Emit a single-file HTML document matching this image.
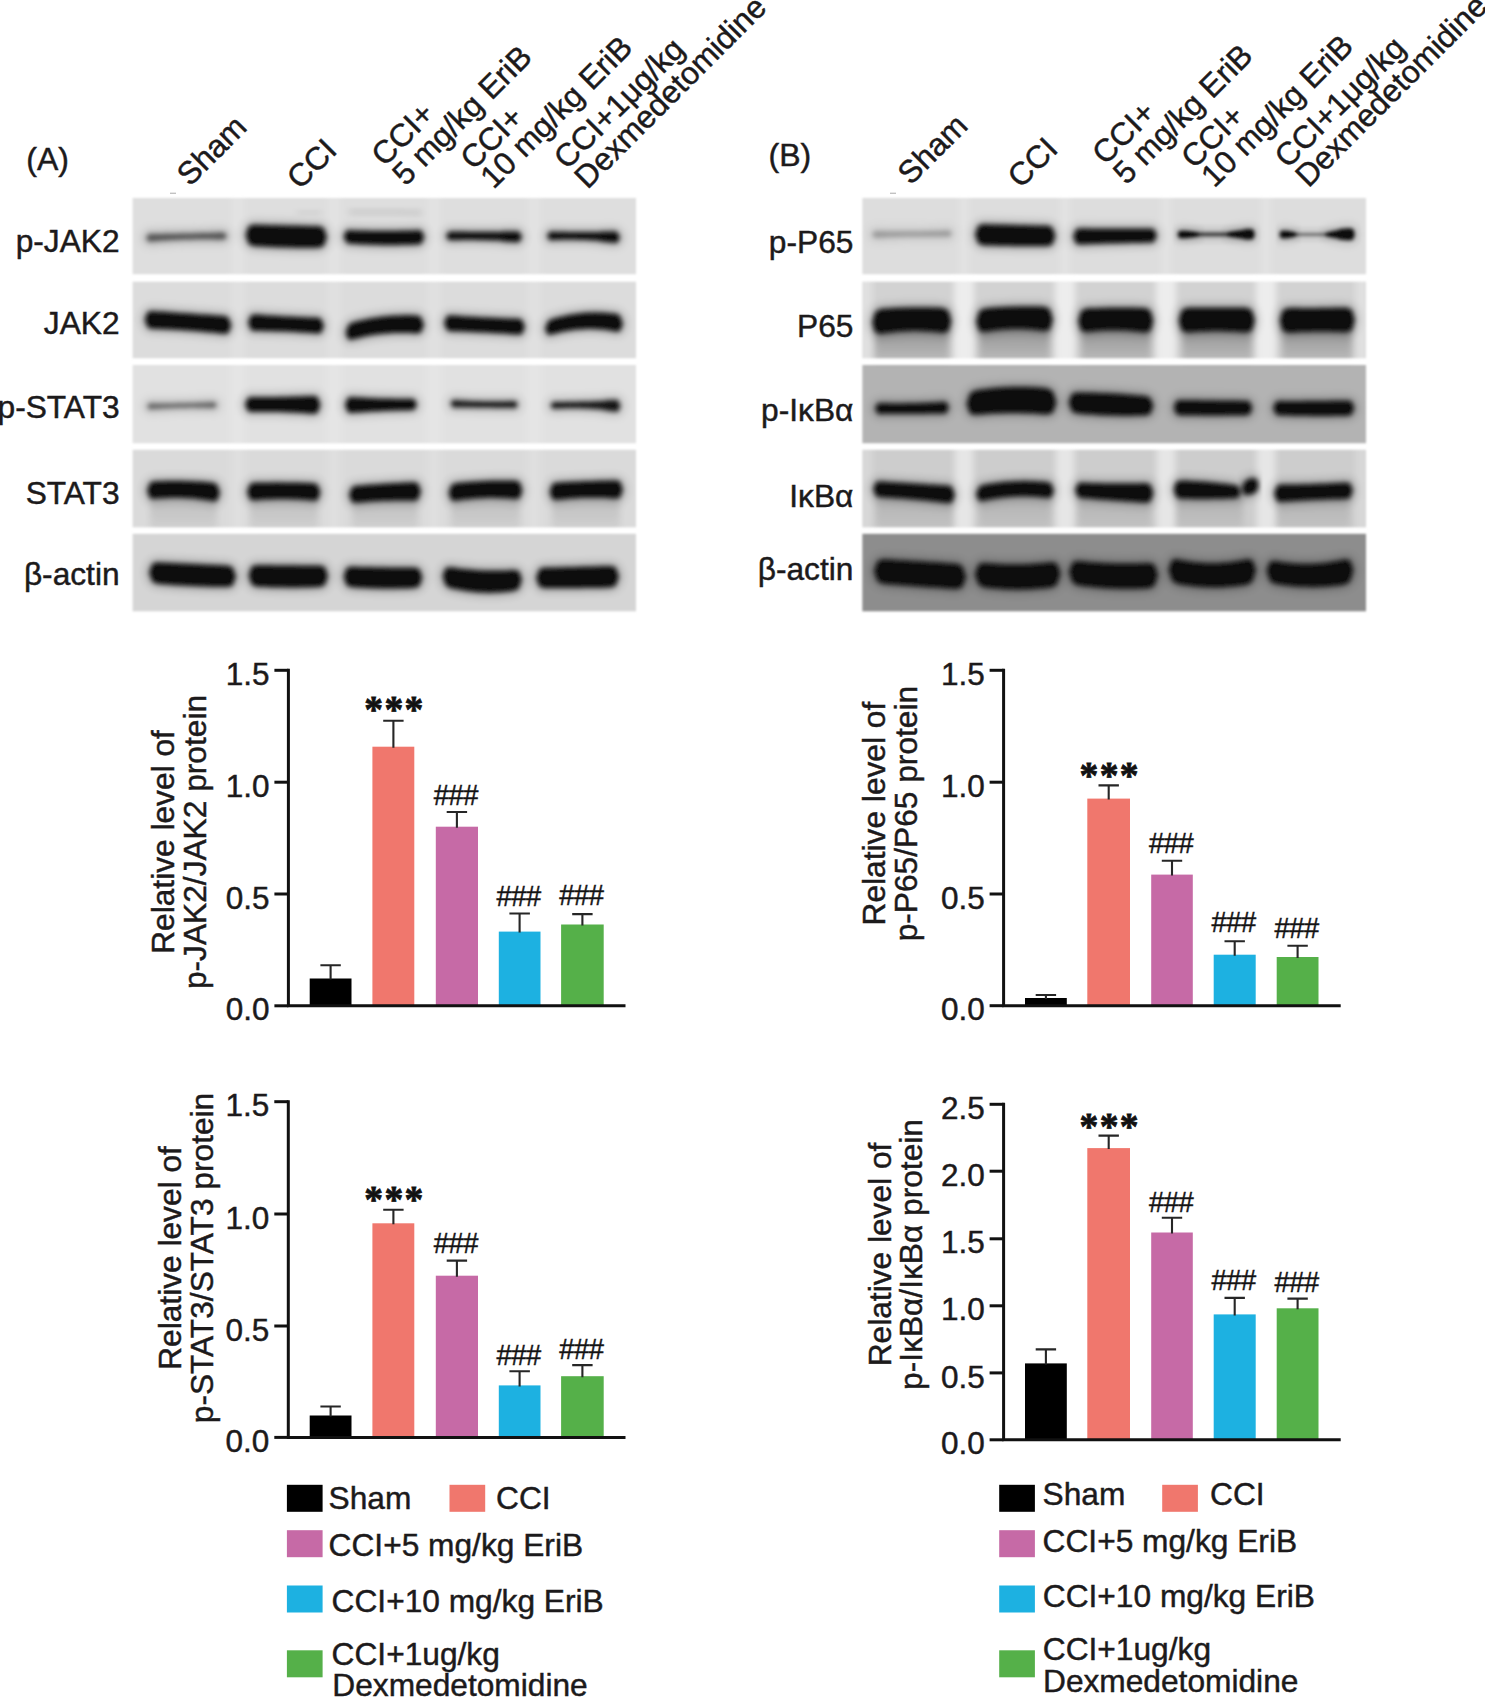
<!DOCTYPE html>
<html lang="en"><head><meta charset="utf-8"><title>Figure</title>
<style>html,body{margin:0;padding:0;background:#fff}svg{display:block}text{font-family:"Liberation Sans",sans-serif;fill:#1c1a1b;stroke:#1c1a1b;stroke-width:.45px}</style></head><body>
<svg width="1485" height="1699" viewBox="0 0 1485 1699">
<defs>
<filter id="b1" x="-10%" y="-60%" width="120%" height="220%"><feGaussianBlur stdDeviation="2.1"/></filter>
<filter id="bh" x="-20%" y="-150%" width="140%" height="400%"><feGaussianBlur stdDeviation="4"/></filter>
<filter id="b2" x="-50%" y="-10%" width="200%" height="120%"><feGaussianBlur stdDeviation="5 1"/></filter>
<filter id="b4" x="-50%" y="-10%" width="200%" height="120%"><feGaussianBlur stdDeviation="3 1"/></filter>
<filter id="b3" x="-10%" y="-30%" width="120%" height="160%"><feGaussianBlur stdDeviation="3"/></filter>
<filter id="b0" x="-10%" y="-150%" width="120%" height="400%"><feGaussianBlur stdDeviation="1.6"/></filter>
<filter id="bs" x="-2%" y="-2%" width="104%" height="104%"><feGaussianBlur stdDeviation="0.8"/></filter>
<linearGradient id="sm" x1="0" y1="0" x2="0" y2="1"><stop offset="0" stop-color="#000" stop-opacity="1"/><stop offset="1" stop-color="#000" stop-opacity="0.35"/></linearGradient>
</defs>
<rect width="1485" height="1699" fill="#fff"/>
<clipPath id="ca">
<rect x="132.4" y="197.8" width="503.6" height="76.6"/>
<rect x="132.4" y="281.4" width="503.6" height="77"/>
<rect x="132.4" y="365" width="503.6" height="78.5"/>
<rect x="132.4" y="449.6" width="503.6" height="78"/>
<rect x="132.4" y="533.6" width="503.6" height="78"/>
</clipPath>
<g filter="url(#bs)"><g clip-path="url(#ca)">
<rect x="132.4" y="197.8" width="503.6" height="76.6" fill="#dedede"/>
<rect x="132.4" y="281.4" width="503.6" height="77" fill="#dcdcdc"/>
<rect x="132.4" y="365" width="503.6" height="78.5" fill="#e1e1e1"/>
<rect x="132.4" y="449.6" width="503.6" height="78" fill="#dadada"/>
<rect x="132.4" y="533.6" width="503.6" height="78" fill="#d5d5d5"/>
<rect x="231" y="193.8" width="14" height="337.8" fill="#fff" opacity="0.16" filter="url(#b2)"/>
<rect x="327" y="193.8" width="14" height="337.8" fill="#fff" opacity="0.16" filter="url(#b2)"/>
<rect x="427" y="193.8" width="14" height="337.8" fill="#fff" opacity="0.16" filter="url(#b2)"/>
<rect x="527" y="193.8" width="14" height="337.8" fill="#fff" opacity="0.16" filter="url(#b2)"/>
<path d="M146 238 L148.9 234 L151.8 234 L154.7 234 L157.6 233.9 L160.5 233.9 L163.4 233.9 L166.2 233.8 L169.1 233.8 L172 233.8 L174.9 233.7 L177.8 233.7 L180.7 233.6 L183.6 233.6 L186.5 233.5 L189.4 233.4 L192.3 233.4 L195.2 233.3 L198.1 233.2 L201 233.1 L203.9 233.1 L206.8 233 L209.6 232.9 L212.5 232.8 L215.4 232.7 L218.3 232.6 L221.2 232.5 L224.1 232.4 L227 236 L227 236 L224.1 239.6 L221.2 239.5 L218.3 239.5 L215.4 239.4 L212.5 239.3 L209.6 239.3 L206.8 239.3 L203.9 239.3 L201 239.3 L198.1 239.3 L195.2 239.3 L192.3 239.4 L189.4 239.4 L186.5 239.5 L183.6 239.6 L180.7 239.7 L177.8 239.8 L174.9 239.9 L172 240.1 L169.1 240.2 L166.2 240.4 L163.4 240.6 L160.5 240.8 L157.6 241 L154.7 241.2 L151.8 241.5 L148.9 241.7 L146 238Z" fill="#555" stroke="#555" stroke-width="7" stroke-linejoin="round" filter="url(#bh)" opacity="0.3"/>
<path d="M146 238 L148.9 234 L151.8 234 L154.7 234 L157.6 233.9 L160.5 233.9 L163.4 233.9 L166.2 233.8 L169.1 233.8 L172 233.8 L174.9 233.7 L177.8 233.7 L180.7 233.6 L183.6 233.6 L186.5 233.5 L189.4 233.4 L192.3 233.4 L195.2 233.3 L198.1 233.2 L201 233.1 L203.9 233.1 L206.8 233 L209.6 232.9 L212.5 232.8 L215.4 232.7 L218.3 232.6 L221.2 232.5 L224.1 232.4 L227 236 L227 236 L224.1 239.6 L221.2 239.5 L218.3 239.5 L215.4 239.4 L212.5 239.3 L209.6 239.3 L206.8 239.3 L203.9 239.3 L201 239.3 L198.1 239.3 L195.2 239.3 L192.3 239.4 L189.4 239.4 L186.5 239.5 L183.6 239.6 L180.7 239.7 L177.8 239.8 L174.9 239.9 L172 240.1 L169.1 240.2 L166.2 240.4 L163.4 240.6 L160.5 240.8 L157.6 241 L154.7 241.2 L151.8 241.5 L148.9 241.7 L146 238Z" fill="#555" filter="url(#b1)"/>
<path d="M245.5 235 L248.4 226.6 L251.3 225 L254.2 224.6 L257.1 224.6 L260.1 224.7 L263 224.7 L265.9 224.8 L268.8 224.9 L271.7 224.9 L274.6 225 L277.5 225.1 L280.4 225.2 L283.3 225.2 L286.2 225.3 L289.2 225.4 L292.1 225.4 L295 225.5 L297.9 225.6 L300.8 225.7 L303.7 225.7 L306.6 225.8 L309.5 225.9 L312.4 225.9 L315.4 226 L318.3 226.1 L321.2 226.7 L324.1 228.4 L327 237 L327 237 L324.1 245.6 L321.2 247.3 L318.3 247.8 L315.4 247.9 L312.4 247.9 L309.5 247.9 L306.6 247.9 L303.7 247.9 L300.8 247.9 L297.9 247.9 L295 247.9 L292.1 247.8 L289.2 247.8 L286.2 247.7 L283.3 247.6 L280.4 247.5 L277.5 247.4 L274.6 247.3 L271.7 247.2 L268.8 247.1 L265.9 246.9 L263 246.8 L260.1 246.6 L257.1 246.5 L254.2 246.3 L251.3 245.5 L248.4 243.7 L245.5 235Z" fill="#0b0b0b" stroke="#0b0b0b" stroke-width="7" stroke-linejoin="round" filter="url(#bh)" opacity="0.22"/>
<path d="M245.5 235 L248.4 226.6 L251.3 225 L254.2 224.6 L257.1 224.6 L260.1 224.7 L263 224.7 L265.9 224.8 L268.8 224.9 L271.7 224.9 L274.6 225 L277.5 225.1 L280.4 225.2 L283.3 225.2 L286.2 225.3 L289.2 225.4 L292.1 225.4 L295 225.5 L297.9 225.6 L300.8 225.7 L303.7 225.7 L306.6 225.8 L309.5 225.9 L312.4 225.9 L315.4 226 L318.3 226.1 L321.2 226.7 L324.1 228.4 L327 237 L327 237 L324.1 245.6 L321.2 247.3 L318.3 247.8 L315.4 247.9 L312.4 247.9 L309.5 247.9 L306.6 247.9 L303.7 247.9 L300.8 247.9 L297.9 247.9 L295 247.9 L292.1 247.8 L289.2 247.8 L286.2 247.7 L283.3 247.6 L280.4 247.5 L277.5 247.4 L274.6 247.3 L271.7 247.2 L268.8 247.1 L265.9 246.9 L263 246.8 L260.1 246.6 L257.1 246.5 L254.2 246.3 L251.3 245.5 L248.4 243.7 L245.5 235Z" fill="#0b0b0b" filter="url(#b1)"/>
<path d="M343.5 236.5 L346.4 230.6 L349.3 230.1 L352.2 230.2 L355.1 230.3 L358 230.4 L360.9 230.5 L363.8 230.6 L366.6 230.6 L369.5 230.7 L372.4 230.7 L375.3 230.8 L378.2 230.8 L381.1 230.8 L384 230.8 L386.9 230.8 L389.8 230.8 L392.7 230.8 L395.6 230.7 L398.5 230.7 L401.4 230.6 L404.2 230.6 L407.1 230.5 L410 230.4 L412.9 230.3 L415.8 230.2 L418.7 230.1 L421.6 230.7 L424.5 237 L424.5 237 L421.6 243.6 L418.7 244.5 L415.8 244.7 L412.9 244.8 L410 244.9 L407.1 245 L404.2 245.1 L401.4 245.1 L398.5 245.2 L395.6 245.2 L392.7 245.2 L389.8 245.2 L386.9 245.2 L384 245.2 L381.1 245.2 L378.2 245.1 L375.3 245 L372.4 244.9 L369.5 244.8 L366.6 244.7 L363.8 244.6 L360.9 244.4 L358 244.3 L355.1 244.1 L352.2 243.9 L349.3 243.7 L346.4 242.8 L343.5 236.5Z" fill="#0b0b0b" stroke="#0b0b0b" stroke-width="7" stroke-linejoin="round" filter="url(#bh)" opacity="0.22"/>
<path d="M343.5 236.5 L346.4 230.6 L349.3 230.1 L352.2 230.2 L355.1 230.3 L358 230.4 L360.9 230.5 L363.8 230.6 L366.6 230.6 L369.5 230.7 L372.4 230.7 L375.3 230.8 L378.2 230.8 L381.1 230.8 L384 230.8 L386.9 230.8 L389.8 230.8 L392.7 230.8 L395.6 230.7 L398.5 230.7 L401.4 230.6 L404.2 230.6 L407.1 230.5 L410 230.4 L412.9 230.3 L415.8 230.2 L418.7 230.1 L421.6 230.7 L424.5 237 L424.5 237 L421.6 243.6 L418.7 244.5 L415.8 244.7 L412.9 244.8 L410 244.9 L407.1 245 L404.2 245.1 L401.4 245.1 L398.5 245.2 L395.6 245.2 L392.7 245.2 L389.8 245.2 L386.9 245.2 L384 245.2 L381.1 245.2 L378.2 245.1 L375.3 245 L372.4 244.9 L369.5 244.8 L366.6 244.7 L363.8 244.6 L360.9 244.4 L358 244.3 L355.1 244.1 L352.2 243.9 L349.3 243.7 L346.4 242.8 L343.5 236.5Z" fill="#0b0b0b" filter="url(#b1)"/>
<path d="M446 236 L448.7 231.7 L451.4 231.6 L454.1 231.6 L456.9 231.6 L459.6 231.6 L462.3 231.6 L465 231.6 L467.7 231.7 L470.4 231.7 L473.1 231.7 L475.9 231.7 L478.6 231.7 L481.3 231.7 L484 231.8 L486.7 231.8 L489.4 231.8 L492.1 231.8 L494.9 231.8 L497.6 231.8 L500.3 231.9 L503 231.2 L505.7 231.2 L508.4 231.2 L511.1 231.2 L513.9 231.2 L516.6 231.3 L519.3 231.7 L522 237 L522 237 L519.3 242.1 L516.6 242.3 L513.9 242.2 L511.1 242 L508.4 241.9 L505.7 241.7 L503 241.6 L500.3 240.8 L497.6 240.7 L494.9 240.6 L492.1 240.5 L489.4 240.4 L486.7 240.3 L484 240.2 L481.3 240.2 L478.6 240.2 L475.9 240.1 L473.1 240.1 L470.4 240.1 L467.7 240.1 L465 240.1 L462.3 240.1 L459.6 240.2 L456.9 240.2 L454.1 240.2 L451.4 240.3 L448.7 240.2 L446 236Z" fill="#0b0b0b" stroke="#0b0b0b" stroke-width="7" stroke-linejoin="round" filter="url(#bh)" opacity="0.22"/>
<path d="M446 236 L448.7 231.7 L451.4 231.6 L454.1 231.6 L456.9 231.6 L459.6 231.6 L462.3 231.6 L465 231.6 L467.7 231.7 L470.4 231.7 L473.1 231.7 L475.9 231.7 L478.6 231.7 L481.3 231.7 L484 231.8 L486.7 231.8 L489.4 231.8 L492.1 231.8 L494.9 231.8 L497.6 231.8 L500.3 231.9 L503 231.2 L505.7 231.2 L508.4 231.2 L511.1 231.2 L513.9 231.2 L516.6 231.3 L519.3 231.7 L522 237 L522 237 L519.3 242.1 L516.6 242.3 L513.9 242.2 L511.1 242 L508.4 241.9 L505.7 241.7 L503 241.6 L500.3 240.8 L497.6 240.7 L494.9 240.6 L492.1 240.5 L489.4 240.4 L486.7 240.3 L484 240.2 L481.3 240.2 L478.6 240.2 L475.9 240.1 L473.1 240.1 L470.4 240.1 L467.7 240.1 L465 240.1 L462.3 240.1 L459.6 240.2 L456.9 240.2 L454.1 240.2 L451.4 240.3 L448.7 240.2 L446 236Z" fill="#0b0b0b" filter="url(#b1)"/>
<path d="M547 236 L549.6 231.7 L552.2 231.6 L554.8 231.7 L557.4 231.7 L560 231.8 L562.6 231.8 L565.2 231.8 L567.9 231.9 L570.5 231.9 L573.1 231.9 L575.7 231.9 L578.3 232 L580.9 232 L583.5 232 L586.1 232 L588.7 232 L591.3 232 L593.9 232 L596.5 232.1 L599.1 232.1 L601.8 231.4 L604.4 231.4 L607 231.4 L609.6 231.3 L612.2 231.3 L614.8 231.3 L617.4 231.9 L620 237.5 L620 237.5 L617.4 242.8 L614.8 243.1 L612.2 242.8 L609.6 242.5 L607 242.2 L604.4 242 L601.8 241.8 L599.1 240.9 L596.5 240.7 L593.9 240.5 L591.3 240.4 L588.7 240.2 L586.1 240.1 L583.5 240 L580.9 239.9 L578.3 239.9 L575.7 239.8 L573.1 239.8 L570.5 239.8 L567.9 239.8 L565.2 239.8 L562.6 239.8 L560 239.9 L557.4 240 L554.8 240.1 L552.2 240.2 L549.6 240.2 L547 236Z" fill="#0b0b0b" stroke="#0b0b0b" stroke-width="7" stroke-linejoin="round" filter="url(#bh)" opacity="0.22"/>
<path d="M547 236 L549.6 231.7 L552.2 231.6 L554.8 231.7 L557.4 231.7 L560 231.8 L562.6 231.8 L565.2 231.8 L567.9 231.9 L570.5 231.9 L573.1 231.9 L575.7 231.9 L578.3 232 L580.9 232 L583.5 232 L586.1 232 L588.7 232 L591.3 232 L593.9 232 L596.5 232.1 L599.1 232.1 L601.8 231.4 L604.4 231.4 L607 231.4 L609.6 231.3 L612.2 231.3 L614.8 231.3 L617.4 231.9 L620 237.5 L620 237.5 L617.4 242.8 L614.8 243.1 L612.2 242.8 L609.6 242.5 L607 242.2 L604.4 242 L601.8 241.8 L599.1 240.9 L596.5 240.7 L593.9 240.5 L591.3 240.4 L588.7 240.2 L586.1 240.1 L583.5 240 L580.9 239.9 L578.3 239.9 L575.7 239.8 L573.1 239.8 L570.5 239.8 L567.9 239.8 L565.2 239.8 L562.6 239.8 L560 239.9 L557.4 240 L554.8 240.1 L552.2 240.2 L549.6 240.2 L547 236Z" fill="#0b0b0b" filter="url(#b1)"/>
<path d="M348 212 L350.7 209.5 L353.4 209.4 L356 209.4 L358.7 209.4 L361.4 209.4 L364.1 209.4 L366.8 209.4 L369.4 209.4 L372.1 209.4 L374.8 209.4 L377.5 209.4 L380.1 209.4 L382.8 209.5 L385.5 209.5 L388.2 209.5 L390.9 209.6 L393.5 209.6 L396.2 209.7 L398.9 209.7 L401.6 209.8 L404.2 209.9 L406.9 209.9 L409.6 210 L412.3 210.1 L415 210.2 L417.6 210.3 L420.3 210.4 L423 213 L423 213 L420.3 215.4 L417.6 215.3 L415 215.2 L412.3 215.1 L409.6 215 L406.9 214.9 L404.2 214.9 L401.6 214.8 L398.9 214.7 L396.2 214.7 L393.5 214.6 L390.9 214.6 L388.2 214.5 L385.5 214.5 L382.8 214.5 L380.1 214.4 L377.5 214.4 L374.8 214.4 L372.1 214.4 L369.4 214.4 L366.8 214.4 L364.1 214.4 L361.4 214.4 L358.7 214.4 L356 214.4 L353.4 214.4 L350.7 214.5 L348 212Z" fill="#c6c6c6" filter="url(#b3)"/>
<path d="M296 212.5 L296.9 210.7 L297.9 210.5 L298.8 210.5 L299.7 210.5 L300.6 210.5 L301.6 210.5 L302.5 210.5 L303.4 210.5 L304.4 210.5 L305.3 210.5 L306.2 210.5 L307.1 210.5 L308.1 210.5 L309 210.5 L309.9 210.5 L310.9 210.5 L311.8 210.5 L312.7 210.5 L313.6 210.5 L314.6 210.5 L315.5 210.5 L316.4 210.5 L317.4 210.5 L318.3 210.5 L319.2 210.5 L320.1 210.5 L321.1 210.7 L322 212.5 L322 212.5 L321.1 214.3 L320.1 214.5 L319.2 214.5 L318.3 214.5 L317.4 214.5 L316.4 214.5 L315.5 214.5 L314.6 214.5 L313.6 214.5 L312.7 214.5 L311.8 214.5 L310.9 214.5 L309.9 214.5 L309 214.5 L308.1 214.5 L307.1 214.5 L306.2 214.5 L305.3 214.5 L304.4 214.5 L303.4 214.5 L302.5 214.5 L301.6 214.5 L300.6 214.5 L299.7 214.5 L298.8 214.5 L297.9 214.5 L296.9 214.3 L296 212.5Z" fill="#cccccc" filter="url(#b3)"/>
<path d="M144.5 319.5 L147.6 311.9 L150.7 310.9 L153.8 310.9 L156.9 311.2 L160 311.4 L163.1 311.6 L166.2 311.8 L169.4 312 L172.5 312.2 L175.6 312.4 L178.7 312.7 L181.8 312.9 L184.9 313.1 L188 313.3 L191.1 313.5 L194.2 313.7 L197.3 313.9 L200.4 314.2 L203.5 314.4 L206.6 314.6 L209.8 314.8 L212.9 315 L216 315.2 L219.1 315.4 L222.2 315.7 L225.3 316 L228.4 317.4 L231.5 325.5 L231.5 325.5 L228.4 333 L225.3 333.9 L222.2 333.7 L219.1 333.4 L216 333 L212.9 332.7 L209.8 332.4 L206.6 332.2 L203.5 331.9 L200.4 331.6 L197.3 331.4 L194.2 331.1 L191.1 330.9 L188 330.7 L184.9 330.5 L181.8 330.3 L178.7 330.1 L175.6 329.9 L172.5 329.8 L169.4 329.6 L166.2 329.4 L163.1 329.3 L160 329.2 L156.9 329.1 L153.8 329 L150.7 328.7 L147.6 327.4 L144.5 319.5Z" fill="#0b0b0b" stroke="#0b0b0b" stroke-width="7" stroke-linejoin="round" filter="url(#bh)" opacity="0.22"/>
<path d="M144.5 319.5 L147.6 311.9 L150.7 310.9 L153.8 310.9 L156.9 311.2 L160 311.4 L163.1 311.6 L166.2 311.8 L169.4 312 L172.5 312.2 L175.6 312.4 L178.7 312.7 L181.8 312.9 L184.9 313.1 L188 313.3 L191.1 313.5 L194.2 313.7 L197.3 313.9 L200.4 314.2 L203.5 314.4 L206.6 314.6 L209.8 314.8 L212.9 315 L216 315.2 L219.1 315.4 L222.2 315.7 L225.3 316 L228.4 317.4 L231.5 325.5 L231.5 325.5 L228.4 333 L225.3 333.9 L222.2 333.7 L219.1 333.4 L216 333 L212.9 332.7 L209.8 332.4 L206.6 332.2 L203.5 331.9 L200.4 331.6 L197.3 331.4 L194.2 331.1 L191.1 330.9 L188 330.7 L184.9 330.5 L181.8 330.3 L178.7 330.1 L175.6 329.9 L172.5 329.8 L169.4 329.6 L166.2 329.4 L163.1 329.3 L160 329.2 L156.9 329.1 L153.8 329 L150.7 328.7 L147.6 327.4 L144.5 319.5Z" fill="#0b0b0b" filter="url(#b1)"/>
<path d="M248 322.5 L250.7 315.4 L253.4 314.4 L256.1 314.4 L258.9 314.6 L261.6 314.8 L264.3 315 L267 315.2 L269.7 315.4 L272.4 315.5 L275.1 315.7 L277.9 315.8 L280.6 316 L283.3 316.2 L286 316.3 L288.7 316.4 L291.4 316.6 L294.1 316.7 L296.9 316.8 L299.6 317 L302.3 317.1 L305 317.2 L307.7 317.3 L310.4 317.4 L313.1 317.5 L315.9 317.6 L318.6 317.8 L321.3 319 L324 326 L324 326 L321.3 332.7 L318.6 333.6 L315.9 333.5 L313.1 333.3 L310.4 333.1 L307.7 332.9 L305 332.7 L302.3 332.5 L299.6 332.4 L296.9 332.2 L294.1 332.1 L291.4 331.9 L288.7 331.8 L286 331.7 L283.3 331.6 L280.6 331.5 L277.9 331.4 L275.1 331.4 L272.4 331.3 L269.7 331.2 L267 331.2 L264.3 331.2 L261.6 331.1 L258.9 331.1 L256.1 331.1 L253.4 330.9 L250.7 329.8 L248 322.5Z" fill="#0b0b0b" stroke="#0b0b0b" stroke-width="7" stroke-linejoin="round" filter="url(#bh)" opacity="0.22"/>
<path d="M248 322.5 L250.7 315.4 L253.4 314.4 L256.1 314.4 L258.9 314.6 L261.6 314.8 L264.3 315 L267 315.2 L269.7 315.4 L272.4 315.5 L275.1 315.7 L277.9 315.8 L280.6 316 L283.3 316.2 L286 316.3 L288.7 316.4 L291.4 316.6 L294.1 316.7 L296.9 316.8 L299.6 317 L302.3 317.1 L305 317.2 L307.7 317.3 L310.4 317.4 L313.1 317.5 L315.9 317.6 L318.6 317.8 L321.3 319 L324 326 L324 326 L321.3 332.7 L318.6 333.6 L315.9 333.5 L313.1 333.3 L310.4 333.1 L307.7 332.9 L305 332.7 L302.3 332.5 L299.6 332.4 L296.9 332.2 L294.1 332.1 L291.4 331.9 L288.7 331.8 L286 331.7 L283.3 331.6 L280.6 331.5 L277.9 331.4 L275.1 331.4 L272.4 331.3 L269.7 331.2 L267 331.2 L264.3 331.2 L261.6 331.1 L258.9 331.1 L256.1 331.1 L253.4 330.9 L250.7 329.8 L248 322.5Z" fill="#0b0b0b" filter="url(#b1)"/>
<path d="M345.5 333 L348.3 324.9 L351.1 322.9 L353.9 322 L356.7 321.2 L359.5 320.6 L362.3 320 L365.1 319.4 L367.9 318.8 L370.7 318.3 L373.5 317.8 L376.3 317.4 L379.1 317 L381.9 316.6 L384.8 316.3 L387.6 316 L390.4 315.8 L393.2 315.6 L396 315.4 L398.8 315.3 L401.6 315.2 L404.4 315.1 L407.2 315.1 L410 315.1 L412.8 315.2 L415.6 315.3 L418.4 315.7 L421.2 317.2 L424 325 L424 325 L421.2 332.3 L418.4 333.3 L415.6 333.4 L412.8 333.2 L410 333 L407.2 332.9 L404.4 332.9 L401.6 332.9 L398.8 332.9 L396 333 L393.2 333.1 L390.4 333.3 L387.6 333.5 L384.8 333.7 L381.9 334 L379.1 334.3 L376.3 334.7 L373.5 335.1 L370.7 335.6 L367.9 336.1 L365.1 336.6 L362.3 337.2 L359.5 337.9 L356.7 338.5 L353.9 339.3 L351.1 339.8 L348.3 339.5 L345.5 333Z" fill="#0b0b0b" stroke="#0b0b0b" stroke-width="7" stroke-linejoin="round" filter="url(#bh)" opacity="0.22"/>
<path d="M345.5 333 L348.3 324.9 L351.1 322.9 L353.9 322 L356.7 321.2 L359.5 320.6 L362.3 320 L365.1 319.4 L367.9 318.8 L370.7 318.3 L373.5 317.8 L376.3 317.4 L379.1 317 L381.9 316.6 L384.8 316.3 L387.6 316 L390.4 315.8 L393.2 315.6 L396 315.4 L398.8 315.3 L401.6 315.2 L404.4 315.1 L407.2 315.1 L410 315.1 L412.8 315.2 L415.6 315.3 L418.4 315.7 L421.2 317.2 L424 325 L424 325 L421.2 332.3 L418.4 333.3 L415.6 333.4 L412.8 333.2 L410 333 L407.2 332.9 L404.4 332.9 L401.6 332.9 L398.8 332.9 L396 333 L393.2 333.1 L390.4 333.3 L387.6 333.5 L384.8 333.7 L381.9 334 L379.1 334.3 L376.3 334.7 L373.5 335.1 L370.7 335.6 L367.9 336.1 L365.1 336.6 L362.3 337.2 L359.5 337.9 L356.7 338.5 L353.9 339.3 L351.1 339.8 L348.3 339.5 L345.5 333Z" fill="#0b0b0b" filter="url(#b1)"/>
<path d="M444 323 L446.9 316.1 L449.8 315.3 L452.7 315.4 L455.6 315.6 L458.5 315.8 L461.4 316 L464.2 316.2 L467.1 316.4 L470 316.5 L472.9 316.7 L475.8 316.8 L478.7 317 L481.6 317.2 L484.5 317.3 L487.4 317.4 L490.3 317.6 L493.2 317.7 L496.1 317.8 L499 318 L501.9 318.1 L504.8 318.2 L507.6 318.3 L510.5 318.4 L513.4 318.5 L516.3 318.6 L519.2 318.7 L522.1 319.8 L525 327 L525 327 L522.1 333.9 L519.2 334.7 L516.3 334.6 L513.4 334.4 L510.5 334.2 L507.6 334 L504.8 333.8 L501.9 333.6 L499 333.5 L496.1 333.3 L493.2 333.2 L490.3 333 L487.4 332.8 L484.5 332.7 L481.6 332.6 L478.7 332.4 L475.8 332.3 L472.9 332.2 L470 332 L467.1 331.9 L464.2 331.8 L461.4 331.7 L458.5 331.6 L455.6 331.5 L452.7 331.4 L449.8 331.3 L446.9 330.2 L444 323Z" fill="#0b0b0b" stroke="#0b0b0b" stroke-width="7" stroke-linejoin="round" filter="url(#bh)" opacity="0.22"/>
<path d="M444 323 L446.9 316.1 L449.8 315.3 L452.7 315.4 L455.6 315.6 L458.5 315.8 L461.4 316 L464.2 316.2 L467.1 316.4 L470 316.5 L472.9 316.7 L475.8 316.8 L478.7 317 L481.6 317.2 L484.5 317.3 L487.4 317.4 L490.3 317.6 L493.2 317.7 L496.1 317.8 L499 318 L501.9 318.1 L504.8 318.2 L507.6 318.3 L510.5 318.4 L513.4 318.5 L516.3 318.6 L519.2 318.7 L522.1 319.8 L525 327 L525 327 L522.1 333.9 L519.2 334.7 L516.3 334.6 L513.4 334.4 L510.5 334.2 L507.6 334 L504.8 333.8 L501.9 333.6 L499 333.5 L496.1 333.3 L493.2 333.2 L490.3 333 L487.4 332.8 L484.5 332.7 L481.6 332.6 L478.7 332.4 L475.8 332.3 L472.9 332.2 L470 332 L467.1 331.9 L464.2 331.8 L461.4 331.7 L458.5 331.6 L455.6 331.5 L452.7 331.4 L449.8 331.3 L446.9 330.2 L444 323Z" fill="#0b0b0b" filter="url(#b1)"/>
<path d="M545 329 L547.8 321.4 L550.6 319.5 L553.4 318.6 L556.1 317.8 L558.9 317.1 L561.7 316.4 L564.5 315.7 L567.3 315.2 L570.1 314.6 L572.9 314.2 L575.6 313.7 L578.4 313.4 L581.2 313.1 L584 312.8 L586.8 312.6 L589.6 312.4 L592.4 312.3 L595.1 312.3 L597.9 312.3 L600.7 312.4 L603.5 312.5 L606.3 312.7 L609.1 312.9 L611.9 313.2 L614.6 313.5 L617.4 314.1 L620.2 315.9 L623 324 L623 324 L620.2 331 L617.4 331.7 L614.6 331.4 L611.9 330.9 L609.1 330.5 L606.3 330.1 L603.5 329.8 L600.7 329.5 L597.9 329.3 L595.1 329.2 L592.4 329.1 L589.6 329.1 L586.8 329.1 L584 329.2 L581.2 329.4 L578.4 329.6 L575.6 329.8 L572.9 330.2 L570.1 330.6 L567.3 331 L564.5 331.5 L561.7 332.1 L558.9 332.7 L556.1 333.4 L553.4 334.1 L550.6 334.8 L547.8 334.7 L545 329Z" fill="#0b0b0b" stroke="#0b0b0b" stroke-width="7" stroke-linejoin="round" filter="url(#bh)" opacity="0.22"/>
<path d="M545 329 L547.8 321.4 L550.6 319.5 L553.4 318.6 L556.1 317.8 L558.9 317.1 L561.7 316.4 L564.5 315.7 L567.3 315.2 L570.1 314.6 L572.9 314.2 L575.6 313.7 L578.4 313.4 L581.2 313.1 L584 312.8 L586.8 312.6 L589.6 312.4 L592.4 312.3 L595.1 312.3 L597.9 312.3 L600.7 312.4 L603.5 312.5 L606.3 312.7 L609.1 312.9 L611.9 313.2 L614.6 313.5 L617.4 314.1 L620.2 315.9 L623 324 L623 324 L620.2 331 L617.4 331.7 L614.6 331.4 L611.9 330.9 L609.1 330.5 L606.3 330.1 L603.5 329.8 L600.7 329.5 L597.9 329.3 L595.1 329.2 L592.4 329.1 L589.6 329.1 L586.8 329.1 L584 329.2 L581.2 329.4 L578.4 329.6 L575.6 329.8 L572.9 330.2 L570.1 330.6 L567.3 331 L564.5 331.5 L561.7 332.1 L558.9 332.7 L556.1 333.4 L553.4 334.1 L550.6 334.8 L547.8 334.7 L545 329Z" fill="#0b0b0b" filter="url(#b1)"/>
<path d="M147 406.5 L149.5 403.3 L152 403.3 L154.5 403.4 L157 403.4 L159.5 403.4 L162 403.4 L164.5 403.4 L167 403.4 L169.5 403.4 L172 403.4 L174.5 403.4 L177 403.3 L179.5 403.3 L182 403.2 L184.5 403.2 L187 403.1 L189.5 403.1 L192 403 L194.5 402.9 L197 402.8 L199.5 402.7 L202 402.6 L204.5 402.5 L207 402.3 L209.5 402.2 L212 402.1 L214.5 401.9 L217 405 L217 405 L214.5 408.1 L212 408 L209.5 407.9 L207 407.9 L204.5 407.8 L202 407.7 L199.5 407.7 L197 407.7 L194.5 407.6 L192 407.6 L189.5 407.6 L187 407.7 L184.5 407.7 L182 407.8 L179.5 407.8 L177 407.9 L174.5 408 L172 408.1 L169.5 408.2 L167 408.3 L164.5 408.4 L162 408.6 L159.5 408.7 L157 408.9 L154.5 409.1 L152 409.3 L149.5 409.5 L147 406.5Z" fill="#666" stroke="#666" stroke-width="7" stroke-linejoin="round" filter="url(#bh)" opacity="0.3"/>
<path d="M147 406.5 L149.5 403.3 L152 403.3 L154.5 403.4 L157 403.4 L159.5 403.4 L162 403.4 L164.5 403.4 L167 403.4 L169.5 403.4 L172 403.4 L174.5 403.4 L177 403.3 L179.5 403.3 L182 403.2 L184.5 403.2 L187 403.1 L189.5 403.1 L192 403 L194.5 402.9 L197 402.8 L199.5 402.7 L202 402.6 L204.5 402.5 L207 402.3 L209.5 402.2 L212 402.1 L214.5 401.9 L217 405 L217 405 L214.5 408.1 L212 408 L209.5 407.9 L207 407.9 L204.5 407.8 L202 407.7 L199.5 407.7 L197 407.7 L194.5 407.6 L192 407.6 L189.5 407.6 L187 407.7 L184.5 407.7 L182 407.8 L179.5 407.8 L177 407.9 L174.5 408 L172 408.1 L169.5 408.2 L167 408.3 L164.5 408.4 L162 408.6 L159.5 408.7 L157 408.9 L154.5 409.1 L152 409.3 L149.5 409.5 L147 406.5Z" fill="#666" filter="url(#b1)"/>
<path d="M245 404.5 L247.7 397.9 L250.4 397 L253.1 396.9 L255.8 397 L258.5 397 L261.2 397 L263.9 397 L266.6 397 L269.3 397 L272 397 L274.7 396.9 L277.4 396.9 L280.1 396.8 L282.8 396.8 L285.4 396.7 L288.1 396.7 L290.8 396.6 L293.5 396.5 L296.2 396.4 L298.9 396.3 L301.6 396.2 L304.3 396.1 L307 396 L309.7 395.9 L312.4 395.8 L315.1 396 L317.8 397.3 L320.5 405 L320.5 405 L317.8 412.6 L315.1 413.8 L312.4 413.9 L309.7 413.7 L307 413.5 L304.3 413.3 L301.6 413.1 L298.9 413 L296.2 412.8 L293.5 412.7 L290.8 412.5 L288.1 412.4 L285.4 412.3 L282.8 412.2 L280.1 412.1 L277.4 412 L274.7 412 L272 411.9 L269.3 411.9 L266.6 411.9 L263.9 411.9 L261.2 411.9 L258.5 411.9 L255.8 411.9 L253.1 412 L250.4 412 L247.7 411.1 L245 404.5Z" fill="#0b0b0b" stroke="#0b0b0b" stroke-width="7" stroke-linejoin="round" filter="url(#bh)" opacity="0.22"/>
<path d="M245 404.5 L247.7 397.9 L250.4 397 L253.1 396.9 L255.8 397 L258.5 397 L261.2 397 L263.9 397 L266.6 397 L269.3 397 L272 397 L274.7 396.9 L277.4 396.9 L280.1 396.8 L282.8 396.8 L285.4 396.7 L288.1 396.7 L290.8 396.6 L293.5 396.5 L296.2 396.4 L298.9 396.3 L301.6 396.2 L304.3 396.1 L307 396 L309.7 395.9 L312.4 395.8 L315.1 396 L317.8 397.3 L320.5 405 L320.5 405 L317.8 412.6 L315.1 413.8 L312.4 413.9 L309.7 413.7 L307 413.5 L304.3 413.3 L301.6 413.1 L298.9 413 L296.2 412.8 L293.5 412.7 L290.8 412.5 L288.1 412.4 L285.4 412.3 L282.8 412.2 L280.1 412.1 L277.4 412 L274.7 412 L272 411.9 L269.3 411.9 L266.6 411.9 L263.9 411.9 L261.2 411.9 L258.5 411.9 L255.8 411.9 L253.1 412 L250.4 412 L247.7 411.1 L245 404.5Z" fill="#0b0b0b" filter="url(#b1)"/>
<path d="M345 405 L347.6 398.1 L350.1 397.1 L352.7 397 L355.3 397.2 L357.9 397.3 L360.4 397.5 L363 397.6 L365.6 397.7 L368.1 397.9 L370.7 398 L373.3 398.1 L375.9 398.2 L378.4 398.3 L381 398.4 L383.6 398.4 L386.1 398.5 L388.7 398.6 L391.3 398.6 L393.9 398.7 L396.4 398.7 L399 398.7 L401.6 398.8 L404.1 398.8 L406.7 398.8 L409.3 398.8 L411.9 398.8 L414.4 399.3 L417 404.5 L417 404.5 L414.4 409.7 L411.9 410.3 L409.3 410.3 L406.7 410.4 L404.1 410.4 L401.6 410.5 L399 410.6 L396.4 410.7 L393.9 410.7 L391.3 410.8 L388.7 410.9 L386.1 411 L383.6 411.1 L381 411.2 L378.4 411.4 L375.9 411.5 L373.3 411.6 L370.7 411.8 L368.1 411.9 L365.6 412.1 L363 412.2 L360.4 412.4 L357.9 412.5 L355.3 412.7 L352.7 412.9 L350.1 412.9 L347.6 411.9 L345 405Z" fill="#0b0b0b" stroke="#0b0b0b" stroke-width="7" stroke-linejoin="round" filter="url(#bh)" opacity="0.22"/>
<path d="M345 405 L347.6 398.1 L350.1 397.1 L352.7 397 L355.3 397.2 L357.9 397.3 L360.4 397.5 L363 397.6 L365.6 397.7 L368.1 397.9 L370.7 398 L373.3 398.1 L375.9 398.2 L378.4 398.3 L381 398.4 L383.6 398.4 L386.1 398.5 L388.7 398.6 L391.3 398.6 L393.9 398.7 L396.4 398.7 L399 398.7 L401.6 398.8 L404.1 398.8 L406.7 398.8 L409.3 398.8 L411.9 398.8 L414.4 399.3 L417 404.5 L417 404.5 L414.4 409.7 L411.9 410.3 L409.3 410.3 L406.7 410.4 L404.1 410.4 L401.6 410.5 L399 410.6 L396.4 410.7 L393.9 410.7 L391.3 410.8 L388.7 410.9 L386.1 411 L383.6 411.1 L381 411.2 L378.4 411.4 L375.9 411.5 L373.3 411.6 L370.7 411.8 L368.1 411.9 L365.6 412.1 L363 412.2 L360.4 412.4 L357.9 412.5 L355.3 412.7 L352.7 412.9 L350.1 412.9 L347.6 411.9 L345 405Z" fill="#0b0b0b" filter="url(#b1)"/>
<path d="M450.5 403.5 L452.9 399.8 L455.3 399.9 L457.7 400.1 L460.1 400.2 L462.6 400.4 L465 400.5 L467.4 400.7 L469.8 400.8 L472.2 400.9 L474.6 401 L477 401.1 L479.4 401.1 L481.8 401.2 L484.2 401.2 L486.7 401.3 L489.1 401.3 L491.5 401.3 L493.9 401.3 L496.3 401.3 L498.7 401.3 L501.1 401.3 L503.5 401.2 L505.9 401.2 L508.4 401.1 L510.8 401 L513.2 401 L515.6 400.9 L518 404.5 L518 404.5 L515.6 408.1 L513.2 408.2 L510.8 408.1 L508.4 408.1 L505.9 408 L503.5 408 L501.1 408 L498.7 407.9 L496.3 407.9 L493.9 407.9 L491.5 407.8 L489.1 407.8 L486.7 407.8 L484.2 407.8 L481.8 407.7 L479.4 407.7 L477 407.7 L474.6 407.7 L472.2 407.6 L469.8 407.6 L467.4 407.6 L465 407.6 L462.6 407.6 L460.1 407.5 L457.7 407.5 L455.3 407.5 L452.9 407.4 L450.5 403.5Z" fill="#1c1c1c" stroke="#1c1c1c" stroke-width="7" stroke-linejoin="round" filter="url(#bh)" opacity="0.22"/>
<path d="M450.5 403.5 L452.9 399.8 L455.3 399.9 L457.7 400.1 L460.1 400.2 L462.6 400.4 L465 400.5 L467.4 400.7 L469.8 400.8 L472.2 400.9 L474.6 401 L477 401.1 L479.4 401.1 L481.8 401.2 L484.2 401.2 L486.7 401.3 L489.1 401.3 L491.5 401.3 L493.9 401.3 L496.3 401.3 L498.7 401.3 L501.1 401.3 L503.5 401.2 L505.9 401.2 L508.4 401.1 L510.8 401 L513.2 401 L515.6 400.9 L518 404.5 L518 404.5 L515.6 408.1 L513.2 408.2 L510.8 408.1 L508.4 408.1 L505.9 408 L503.5 408 L501.1 408 L498.7 407.9 L496.3 407.9 L493.9 407.9 L491.5 407.8 L489.1 407.8 L486.7 407.8 L484.2 407.8 L481.8 407.7 L479.4 407.7 L477 407.7 L474.6 407.7 L472.2 407.6 L469.8 407.6 L467.4 407.6 L465 407.6 L462.6 407.6 L460.1 407.5 L457.7 407.5 L455.3 407.5 L452.9 407.4 L450.5 403.5Z" fill="#1c1c1c" filter="url(#b1)"/>
<path d="M550.5 405.5 L553 402 L555.5 402 L558 402 L560.5 401.9 L563 401.9 L565.5 401.9 L568 401.8 L570.5 401.8 L573 401.8 L575.5 401.7 L578 401.7 L580.5 401.6 L583 401.6 L585.5 401.5 L588 401.4 L590.5 401.4 L593 401.3 L595.5 401.2 L598 401.1 L600.5 401.1 L603 401 L605.5 400.2 L608 400.1 L610.5 400 L613 399.9 L615.5 399.8 L618 400.3 L620.5 406 L620.5 406 L618 411.4 L615.5 411.7 L613 411.4 L610.5 411.1 L608 410.9 L605.5 410.6 L603 409.7 L600.5 409.4 L598 409.2 L595.5 409 L593 408.9 L590.5 408.7 L588 408.6 L585.5 408.5 L583 408.4 L580.5 408.3 L578 408.3 L575.5 408.3 L573 408.2 L570.5 408.3 L568 408.3 L565.5 408.3 L563 408.4 L560.5 408.5 L558 408.6 L555.5 408.7 L553 408.8 L550.5 405.5Z" fill="#181818" stroke="#181818" stroke-width="7" stroke-linejoin="round" filter="url(#bh)" opacity="0.22"/>
<path d="M550.5 405.5 L553 402 L555.5 402 L558 402 L560.5 401.9 L563 401.9 L565.5 401.9 L568 401.8 L570.5 401.8 L573 401.8 L575.5 401.7 L578 401.7 L580.5 401.6 L583 401.6 L585.5 401.5 L588 401.4 L590.5 401.4 L593 401.3 L595.5 401.2 L598 401.1 L600.5 401.1 L603 401 L605.5 400.2 L608 400.1 L610.5 400 L613 399.9 L615.5 399.8 L618 400.3 L620.5 406 L620.5 406 L618 411.4 L615.5 411.7 L613 411.4 L610.5 411.1 L608 410.9 L605.5 410.6 L603 409.7 L600.5 409.4 L598 409.2 L595.5 409 L593 408.9 L590.5 408.7 L588 408.6 L585.5 408.5 L583 408.4 L580.5 408.3 L578 408.3 L575.5 408.3 L573 408.2 L570.5 408.3 L568 408.3 L565.5 408.3 L563 408.4 L560.5 408.5 L558 408.6 L555.5 408.7 L553 408.8 L550.5 405.5Z" fill="#181818" filter="url(#b1)"/>
<rect x="150" y="498" width="67" height="32" fill="url(#sm)" opacity="0.12" filter="url(#b3)"/>
<rect x="250" y="498" width="68" height="32" fill="url(#sm)" opacity="0.12" filter="url(#b3)"/>
<rect x="352" y="498" width="66" height="32" fill="url(#sm)" opacity="0.12" filter="url(#b3)"/>
<rect x="451" y="498" width="69" height="32" fill="url(#sm)" opacity="0.12" filter="url(#b3)"/>
<rect x="552" y="498" width="68" height="32" fill="url(#sm)" opacity="0.12" filter="url(#b3)"/>
<path d="M147 490.8 L149.6 483.2 L152.2 481.6 L154.8 481.2 L157.4 481 L160 480.9 L162.6 480.9 L165.2 480.8 L167.9 480.7 L170.5 480.7 L173.1 480.7 L175.7 480.7 L178.3 480.7 L180.9 480.7 L183.5 480.8 L186.1 480.9 L188.7 481 L191.3 481.1 L193.9 481.2 L196.5 481.3 L199.1 481.5 L201.8 481.6 L204.4 481.8 L207 482 L209.6 482.2 L212.2 482.5 L214.8 483.2 L217.4 484.9 L220 493 L220 493 L217.4 500.2 L214.8 501.2 L212.2 501.2 L209.6 500.8 L207 500.4 L204.4 500 L201.8 499.7 L199.1 499.4 L196.5 499.1 L193.9 498.8 L191.3 498.6 L188.7 498.5 L186.1 498.3 L183.5 498.2 L180.9 498.1 L178.3 498.1 L175.7 498.1 L173.1 498.1 L170.5 498.1 L167.9 498.2 L165.2 498.3 L162.6 498.5 L160 498.6 L157.4 498.8 L154.8 499.1 L152.2 499 L149.6 497.9 L147 490.8Z" fill="#0b0b0b" stroke="#0b0b0b" stroke-width="7" stroke-linejoin="round" filter="url(#bh)" opacity="0.22"/>
<path d="M147 490.8 L149.6 483.2 L152.2 481.6 L154.8 481.2 L157.4 481 L160 480.9 L162.6 480.9 L165.2 480.8 L167.9 480.7 L170.5 480.7 L173.1 480.7 L175.7 480.7 L178.3 480.7 L180.9 480.7 L183.5 480.8 L186.1 480.9 L188.7 481 L191.3 481.1 L193.9 481.2 L196.5 481.3 L199.1 481.5 L201.8 481.6 L204.4 481.8 L207 482 L209.6 482.2 L212.2 482.5 L214.8 483.2 L217.4 484.9 L220 493 L220 493 L217.4 500.2 L214.8 501.2 L212.2 501.2 L209.6 500.8 L207 500.4 L204.4 500 L201.8 499.7 L199.1 499.4 L196.5 499.1 L193.9 498.8 L191.3 498.6 L188.7 498.5 L186.1 498.3 L183.5 498.2 L180.9 498.1 L178.3 498.1 L175.7 498.1 L173.1 498.1 L170.5 498.1 L167.9 498.2 L165.2 498.3 L162.6 498.5 L160 498.6 L157.4 498.8 L154.8 499.1 L152.2 499 L149.6 497.9 L147 490.8Z" fill="#0b0b0b" filter="url(#b1)"/>
<path d="M247 492 L249.6 484.4 L252.2 483 L254.9 482.6 L257.5 482.5 L260.1 482.5 L262.8 482.4 L265.4 482.4 L268 482.4 L270.6 482.4 L273.2 482.3 L275.9 482.3 L278.5 482.3 L281.1 482.3 L283.8 482.4 L286.4 482.4 L289 482.4 L291.6 482.4 L294.2 482.5 L296.9 482.5 L299.5 482.6 L302.1 482.7 L304.8 482.7 L307.4 482.8 L310 482.9 L312.6 483 L315.2 483.4 L317.9 484.9 L320.5 492.5 L320.5 492.5 L317.9 499.7 L315.2 500.7 L312.6 500.8 L310 500.6 L307.4 500.3 L304.8 500.1 L302.1 499.9 L299.5 499.8 L296.9 499.6 L294.2 499.5 L291.6 499.4 L289 499.3 L286.4 499.3 L283.8 499.2 L281.1 499.2 L278.5 499.3 L275.9 499.3 L273.2 499.4 L270.6 499.4 L268 499.5 L265.4 499.7 L262.8 499.8 L260.1 500 L257.5 500.2 L254.9 500.4 L252.2 500.3 L249.6 499.2 L247 492Z" fill="#0b0b0b" stroke="#0b0b0b" stroke-width="7" stroke-linejoin="round" filter="url(#bh)" opacity="0.22"/>
<path d="M247 492 L249.6 484.4 L252.2 483 L254.9 482.6 L257.5 482.5 L260.1 482.5 L262.8 482.4 L265.4 482.4 L268 482.4 L270.6 482.4 L273.2 482.3 L275.9 482.3 L278.5 482.3 L281.1 482.3 L283.8 482.4 L286.4 482.4 L289 482.4 L291.6 482.4 L294.2 482.5 L296.9 482.5 L299.5 482.6 L302.1 482.7 L304.8 482.7 L307.4 482.8 L310 482.9 L312.6 483 L315.2 483.4 L317.9 484.9 L320.5 492.5 L320.5 492.5 L317.9 499.7 L315.2 500.7 L312.6 500.8 L310 500.6 L307.4 500.3 L304.8 500.1 L302.1 499.9 L299.5 499.8 L296.9 499.6 L294.2 499.5 L291.6 499.4 L289 499.3 L286.4 499.3 L283.8 499.2 L281.1 499.2 L278.5 499.3 L275.9 499.3 L273.2 499.4 L270.6 499.4 L268 499.5 L265.4 499.7 L262.8 499.8 L260.1 500 L257.5 500.2 L254.9 500.4 L252.2 500.3 L249.6 499.2 L247 492Z" fill="#0b0b0b" filter="url(#b1)"/>
<path d="M349 495 L351.6 487.6 L354.1 486.2 L356.7 485.6 L359.3 485.4 L361.9 485.2 L364.4 485 L367 484.8 L369.6 484.6 L372.1 484.5 L374.7 484.3 L377.3 484.1 L379.9 483.9 L382.4 483.8 L385 483.6 L387.6 483.4 L390.1 483.3 L392.7 483.1 L395.3 483 L397.9 482.9 L400.4 482.7 L403 482.6 L405.6 482.5 L408.1 482.3 L410.7 482.2 L413.3 482.1 L415.9 482.5 L418.4 483.9 L421 491.5 L421 491.5 L418.4 499.1 L415.9 500.5 L413.3 500.9 L410.7 500.8 L408.1 500.8 L405.6 500.8 L403 500.7 L400.4 500.7 L397.9 500.7 L395.3 500.8 L392.7 500.8 L390.1 500.9 L387.6 500.9 L385 501 L382.4 501.1 L379.9 501.2 L377.3 501.3 L374.7 501.5 L372.1 501.6 L369.6 501.8 L367 502 L364.4 502.2 L361.9 502.4 L359.3 502.6 L356.7 502.9 L354.1 502.8 L351.6 501.8 L349 495Z" fill="#0b0b0b" stroke="#0b0b0b" stroke-width="7" stroke-linejoin="round" filter="url(#bh)" opacity="0.22"/>
<path d="M349 495 L351.6 487.6 L354.1 486.2 L356.7 485.6 L359.3 485.4 L361.9 485.2 L364.4 485 L367 484.8 L369.6 484.6 L372.1 484.5 L374.7 484.3 L377.3 484.1 L379.9 483.9 L382.4 483.8 L385 483.6 L387.6 483.4 L390.1 483.3 L392.7 483.1 L395.3 483 L397.9 482.9 L400.4 482.7 L403 482.6 L405.6 482.5 L408.1 482.3 L410.7 482.2 L413.3 482.1 L415.9 482.5 L418.4 483.9 L421 491.5 L421 491.5 L418.4 499.1 L415.9 500.5 L413.3 500.9 L410.7 500.8 L408.1 500.8 L405.6 500.8 L403 500.7 L400.4 500.7 L397.9 500.7 L395.3 500.8 L392.7 500.8 L390.1 500.9 L387.6 500.9 L385 501 L382.4 501.1 L379.9 501.2 L377.3 501.3 L374.7 501.5 L372.1 501.6 L369.6 501.8 L367 502 L364.4 502.2 L361.9 502.4 L359.3 502.6 L356.7 502.9 L354.1 502.8 L351.6 501.8 L349 495Z" fill="#0b0b0b" filter="url(#b1)"/>
<path d="M448.5 493 L451.1 485.2 L453.8 483.5 L456.4 482.9 L459.1 482.6 L461.7 482.4 L464.4 482.1 L467 481.9 L469.6 481.7 L472.3 481.5 L474.9 481.4 L477.6 481.2 L480.2 481 L482.9 480.9 L485.5 480.8 L488.1 480.7 L490.8 480.6 L493.4 480.5 L496.1 480.5 L498.7 480.5 L501.4 480.4 L504 480.4 L506.6 480.4 L509.3 480.5 L511.9 480.5 L514.6 480.6 L517.2 481 L519.9 482.6 L522.5 490.5 L522.5 490.5 L519.9 498 L517.2 499.1 L514.6 499.3 L511.9 499 L509.3 498.8 L506.6 498.6 L504 498.4 L501.4 498.3 L498.7 498.2 L496.1 498.2 L493.4 498.1 L490.8 498.1 L488.1 498.1 L485.5 498.2 L482.9 498.3 L480.2 498.4 L477.6 498.6 L474.9 498.7 L472.3 498.9 L469.6 499.2 L467 499.4 L464.4 499.8 L461.7 500.1 L459.1 500.4 L456.4 500.8 L453.8 500.9 L451.1 500 L448.5 493Z" fill="#0b0b0b" stroke="#0b0b0b" stroke-width="7" stroke-linejoin="round" filter="url(#bh)" opacity="0.22"/>
<path d="M448.5 493 L451.1 485.2 L453.8 483.5 L456.4 482.9 L459.1 482.6 L461.7 482.4 L464.4 482.1 L467 481.9 L469.6 481.7 L472.3 481.5 L474.9 481.4 L477.6 481.2 L480.2 481 L482.9 480.9 L485.5 480.8 L488.1 480.7 L490.8 480.6 L493.4 480.5 L496.1 480.5 L498.7 480.5 L501.4 480.4 L504 480.4 L506.6 480.4 L509.3 480.5 L511.9 480.5 L514.6 480.6 L517.2 481 L519.9 482.6 L522.5 490.5 L522.5 490.5 L519.9 498 L517.2 499.1 L514.6 499.3 L511.9 499 L509.3 498.8 L506.6 498.6 L504 498.4 L501.4 498.3 L498.7 498.2 L496.1 498.2 L493.4 498.1 L490.8 498.1 L488.1 498.1 L485.5 498.2 L482.9 498.3 L480.2 498.4 L477.6 498.6 L474.9 498.7 L472.3 498.9 L469.6 499.2 L467 499.4 L464.4 499.8 L461.7 500.1 L459.1 500.4 L456.4 500.8 L453.8 500.9 L451.1 500 L448.5 493Z" fill="#0b0b0b" filter="url(#b1)"/>
<path d="M549.5 492 L552.1 484.3 L554.8 482.8 L557.4 482.4 L560 482.2 L562.6 482.1 L565.2 482 L567.9 481.8 L570.5 481.7 L573.1 481.6 L575.8 481.5 L578.4 481.4 L581 481.3 L583.6 481.1 L586.2 481.1 L588.9 481 L591.5 480.9 L594.1 480.8 L596.8 480.7 L599.4 480.6 L602 480.5 L604.6 480.5 L607.2 480.4 L609.9 480.3 L612.5 480.3 L615.1 480.2 L617.8 480.6 L620.4 482 L623 489.8 L623 489.8 L620.4 497.3 L617.8 498.6 L615.1 498.8 L612.5 498.6 L609.9 498.4 L607.2 498.2 L604.6 498.1 L602 498 L599.4 498 L596.8 497.9 L594.1 497.9 L591.5 497.9 L588.9 497.9 L586.2 497.9 L583.6 498 L581 498.1 L578.4 498.2 L575.8 498.4 L573.1 498.6 L570.5 498.8 L567.9 499 L565.2 499.2 L562.6 499.5 L560 499.8 L557.4 500.1 L554.8 500.1 L552.1 499.1 L549.5 492Z" fill="#0b0b0b" stroke="#0b0b0b" stroke-width="7" stroke-linejoin="round" filter="url(#bh)" opacity="0.22"/>
<path d="M549.5 492 L552.1 484.3 L554.8 482.8 L557.4 482.4 L560 482.2 L562.6 482.1 L565.2 482 L567.9 481.8 L570.5 481.7 L573.1 481.6 L575.8 481.5 L578.4 481.4 L581 481.3 L583.6 481.1 L586.2 481.1 L588.9 481 L591.5 480.9 L594.1 480.8 L596.8 480.7 L599.4 480.6 L602 480.5 L604.6 480.5 L607.2 480.4 L609.9 480.3 L612.5 480.3 L615.1 480.2 L617.8 480.6 L620.4 482 L623 489.8 L623 489.8 L620.4 497.3 L617.8 498.6 L615.1 498.8 L612.5 498.6 L609.9 498.4 L607.2 498.2 L604.6 498.1 L602 498 L599.4 498 L596.8 497.9 L594.1 497.9 L591.5 497.9 L588.9 497.9 L586.2 497.9 L583.6 498 L581 498.1 L578.4 498.2 L575.8 498.4 L573.1 498.6 L570.5 498.8 L567.9 499 L565.2 499.2 L562.6 499.5 L560 499.8 L557.4 500.1 L554.8 500.1 L552.1 499.1 L549.5 492Z" fill="#0b0b0b" filter="url(#b1)"/>
<path d="M149 572.5 L152.1 564 L155.2 562.5 L158.3 562.2 L161.4 562.4 L164.5 562.5 L167.6 562.7 L170.8 562.8 L173.9 562.9 L177 563.1 L180.1 563.2 L183.2 563.4 L186.3 563.5 L189.4 563.7 L192.5 563.8 L195.6 563.9 L198.7 564.1 L201.8 564.2 L204.9 564.4 L208 564.5 L211.1 564.7 L214.2 564.8 L217.4 564.9 L220.5 565.1 L223.6 565.2 L226.7 565.4 L229.8 566 L232.9 567.7 L236 576.5 L236 576.5 L232.9 585.2 L229.8 586.7 L226.7 587.1 L223.6 587.1 L220.5 587.1 L217.4 587 L214.2 587 L211.1 586.9 L208 586.8 L204.9 586.7 L201.8 586.6 L198.7 586.5 L195.6 586.3 L192.5 586.2 L189.4 586.1 L186.3 585.9 L183.2 585.7 L180.1 585.5 L177 585.4 L173.9 585.2 L170.8 585 L167.6 584.7 L164.5 584.5 L161.4 584.3 L158.3 584 L155.2 583.3 L152.1 581.5 L149 572.5Z" fill="#0b0b0b" stroke="#0b0b0b" stroke-width="7" stroke-linejoin="round" filter="url(#bh)" opacity="0.22"/>
<path d="M149 572.5 L152.1 564 L155.2 562.5 L158.3 562.2 L161.4 562.4 L164.5 562.5 L167.6 562.7 L170.8 562.8 L173.9 562.9 L177 563.1 L180.1 563.2 L183.2 563.4 L186.3 563.5 L189.4 563.7 L192.5 563.8 L195.6 563.9 L198.7 564.1 L201.8 564.2 L204.9 564.4 L208 564.5 L211.1 564.7 L214.2 564.8 L217.4 564.9 L220.5 565.1 L223.6 565.2 L226.7 565.4 L229.8 566 L232.9 567.7 L236 576.5 L236 576.5 L232.9 585.2 L229.8 586.7 L226.7 587.1 L223.6 587.1 L220.5 587.1 L217.4 587 L214.2 587 L211.1 586.9 L208 586.8 L204.9 586.7 L201.8 586.6 L198.7 586.5 L195.6 586.3 L192.5 586.2 L189.4 586.1 L186.3 585.9 L183.2 585.7 L180.1 585.5 L177 585.4 L173.9 585.2 L170.8 585 L167.6 584.7 L164.5 584.5 L161.4 584.3 L158.3 584 L155.2 583.3 L152.1 581.5 L149 572.5Z" fill="#0b0b0b" filter="url(#b1)"/>
<path d="M248.5 575.5 L251.3 567.1 L254.2 565.5 L257 565 L259.9 565 L262.7 565 L265.5 565.1 L268.4 565.1 L271.2 565.1 L274.1 565.2 L276.9 565.2 L279.7 565.2 L282.6 565.3 L285.4 565.3 L288.2 565.3 L291.1 565.3 L293.9 565.3 L296.8 565.3 L299.6 565.4 L302.4 565.4 L305.3 565.4 L308.1 565.4 L311 565.4 L313.8 565.4 L316.6 565.4 L319.5 565.4 L322.3 565.9 L325.2 567.6 L328 576 L328 576 L325.2 584.6 L322.3 586.4 L319.5 587.1 L316.6 587.2 L313.8 587.3 L311 587.4 L308.1 587.5 L305.3 587.6 L302.4 587.6 L299.6 587.7 L296.8 587.7 L293.9 587.7 L291.1 587.7 L288.2 587.7 L285.4 587.7 L282.6 587.6 L279.7 587.6 L276.9 587.5 L274.1 587.5 L271.2 587.4 L268.4 587.3 L265.5 587.1 L262.7 587 L259.9 586.9 L257 586.7 L254.2 586 L251.3 584.1 L248.5 575.5Z" fill="#0b0b0b" stroke="#0b0b0b" stroke-width="7" stroke-linejoin="round" filter="url(#bh)" opacity="0.22"/>
<path d="M248.5 575.5 L251.3 567.1 L254.2 565.5 L257 565 L259.9 565 L262.7 565 L265.5 565.1 L268.4 565.1 L271.2 565.1 L274.1 565.2 L276.9 565.2 L279.7 565.2 L282.6 565.3 L285.4 565.3 L288.2 565.3 L291.1 565.3 L293.9 565.3 L296.8 565.3 L299.6 565.4 L302.4 565.4 L305.3 565.4 L308.1 565.4 L311 565.4 L313.8 565.4 L316.6 565.4 L319.5 565.4 L322.3 565.9 L325.2 567.6 L328 576 L328 576 L325.2 584.6 L322.3 586.4 L319.5 587.1 L316.6 587.2 L313.8 587.3 L311 587.4 L308.1 587.5 L305.3 587.6 L302.4 587.6 L299.6 587.7 L296.8 587.7 L293.9 587.7 L291.1 587.7 L288.2 587.7 L285.4 587.7 L282.6 587.6 L279.7 587.6 L276.9 587.5 L274.1 587.5 L271.2 587.4 L268.4 587.3 L265.5 587.1 L262.7 587 L259.9 586.9 L257 586.7 L254.2 586 L251.3 584.1 L248.5 575.5Z" fill="#0b0b0b" filter="url(#b1)"/>
<path d="M343.5 576.5 L346.3 568.4 L349.1 567 L352 566.6 L354.8 566.7 L357.6 566.8 L360.4 566.9 L363.2 566.9 L366.1 567 L368.9 567.1 L371.7 567.1 L374.5 567.2 L377.4 567.2 L380.2 567.3 L383 567.3 L385.8 567.3 L388.6 567.4 L391.5 567.4 L394.3 567.4 L397.1 567.4 L399.9 567.4 L402.8 567.4 L405.6 567.4 L408.4 567.4 L411.2 567.4 L414 567.4 L416.9 567.9 L419.7 569.4 L422.5 577.5 L422.5 577.5 L419.7 585.8 L416.9 587.5 L414 588.1 L411.2 588.3 L408.4 588.4 L405.6 588.5 L402.8 588.6 L399.9 588.6 L397.1 588.7 L394.3 588.7 L391.5 588.7 L388.6 588.7 L385.8 588.7 L383 588.7 L380.2 588.7 L377.4 588.6 L374.5 588.5 L371.7 588.4 L368.9 588.3 L366.1 588.2 L363.2 588.1 L360.4 587.9 L357.6 587.8 L354.8 587.6 L352 587.3 L349.1 586.7 L346.3 584.9 L343.5 576.5Z" fill="#0b0b0b" stroke="#0b0b0b" stroke-width="7" stroke-linejoin="round" filter="url(#bh)" opacity="0.22"/>
<path d="M343.5 576.5 L346.3 568.4 L349.1 567 L352 566.6 L354.8 566.7 L357.6 566.8 L360.4 566.9 L363.2 566.9 L366.1 567 L368.9 567.1 L371.7 567.1 L374.5 567.2 L377.4 567.2 L380.2 567.3 L383 567.3 L385.8 567.3 L388.6 567.4 L391.5 567.4 L394.3 567.4 L397.1 567.4 L399.9 567.4 L402.8 567.4 L405.6 567.4 L408.4 567.4 L411.2 567.4 L414 567.4 L416.9 567.9 L419.7 569.4 L422.5 577.5 L422.5 577.5 L419.7 585.8 L416.9 587.5 L414 588.1 L411.2 588.3 L408.4 588.4 L405.6 588.5 L402.8 588.6 L399.9 588.6 L397.1 588.7 L394.3 588.7 L391.5 588.7 L388.6 588.7 L385.8 588.7 L383 588.7 L380.2 588.7 L377.4 588.6 L374.5 588.5 L371.7 588.4 L368.9 588.3 L366.1 588.2 L363.2 588.1 L360.4 587.9 L357.6 587.8 L354.8 587.6 L352 587.3 L349.1 586.7 L346.3 584.9 L343.5 576.5Z" fill="#0b0b0b" filter="url(#b1)"/>
<path d="M442.5 576 L445.3 568.4 L448.2 567.3 L451 567.3 L453.9 567.6 L456.7 568 L459.5 568.4 L462.4 568.7 L465.2 569 L468.1 569.3 L470.9 569.6 L473.7 569.8 L476.6 570 L479.4 570.2 L482.2 570.3 L485.1 570.4 L487.9 570.5 L490.8 570.5 L493.6 570.6 L496.4 570.6 L499.3 570.5 L502.1 570.5 L505 570.4 L507.8 570.3 L510.6 570.1 L513.5 570 L516.3 570.3 L519.2 571.6 L522 579.5 L522 579.5 L519.2 588.2 L516.3 590.2 L513.5 591.1 L510.6 591.5 L507.8 591.9 L505 592.1 L502.1 592.4 L499.3 592.6 L496.4 592.7 L493.6 592.8 L490.8 592.9 L487.9 592.9 L485.1 592.8 L482.2 592.7 L479.4 592.6 L476.6 592.4 L473.7 592.1 L470.9 591.8 L468.1 591.5 L465.2 591.1 L462.4 590.6 L459.5 590.1 L456.7 589.6 L453.9 589 L451 588.4 L448.2 587.2 L445.3 584.9 L442.5 576Z" fill="#0b0b0b" stroke="#0b0b0b" stroke-width="7" stroke-linejoin="round" filter="url(#bh)" opacity="0.22"/>
<path d="M442.5 576 L445.3 568.4 L448.2 567.3 L451 567.3 L453.9 567.6 L456.7 568 L459.5 568.4 L462.4 568.7 L465.2 569 L468.1 569.3 L470.9 569.6 L473.7 569.8 L476.6 570 L479.4 570.2 L482.2 570.3 L485.1 570.4 L487.9 570.5 L490.8 570.5 L493.6 570.6 L496.4 570.6 L499.3 570.5 L502.1 570.5 L505 570.4 L507.8 570.3 L510.6 570.1 L513.5 570 L516.3 570.3 L519.2 571.6 L522 579.5 L522 579.5 L519.2 588.2 L516.3 590.2 L513.5 591.1 L510.6 591.5 L507.8 591.9 L505 592.1 L502.1 592.4 L499.3 592.6 L496.4 592.7 L493.6 592.8 L490.8 592.9 L487.9 592.9 L485.1 592.8 L482.2 592.7 L479.4 592.6 L476.6 592.4 L473.7 592.1 L470.9 591.8 L468.1 591.5 L465.2 591.1 L462.4 590.6 L459.5 590.1 L456.7 589.6 L453.9 589 L451 588.4 L448.2 587.2 L445.3 584.9 L442.5 576Z" fill="#0b0b0b" filter="url(#b1)"/>
<path d="M536 578 L539 569.6 L541.9 568.1 L544.9 567.6 L547.9 567.5 L550.8 567.5 L553.8 567.4 L556.8 567.3 L559.7 567.3 L562.7 567.2 L565.6 567.1 L568.6 567 L571.6 567 L574.5 566.9 L577.5 566.8 L580.5 566.7 L583.4 566.6 L586.4 566.6 L589.4 566.5 L592.3 566.4 L595.3 566.3 L598.2 566.2 L601.2 566.1 L604.2 566 L607.1 565.9 L610.1 565.9 L613.1 566.3 L616 567.9 L619 576.5 L619 576.5 L616 585.3 L613.1 587.1 L610.1 587.6 L607.1 587.7 L604.2 587.8 L601.2 587.9 L598.2 587.9 L595.3 588 L592.3 588 L589.4 588.1 L586.4 588.1 L583.4 588.1 L580.5 588.2 L577.5 588.2 L574.5 588.2 L571.6 588.2 L568.6 588.3 L565.6 588.3 L562.7 588.3 L559.7 588.3 L556.8 588.3 L553.8 588.3 L550.8 588.3 L547.9 588.3 L544.9 588.3 L541.9 587.8 L539 586.3 L536 578Z" fill="#0b0b0b" stroke="#0b0b0b" stroke-width="7" stroke-linejoin="round" filter="url(#bh)" opacity="0.22"/>
<path d="M536 578 L539 569.6 L541.9 568.1 L544.9 567.6 L547.9 567.5 L550.8 567.5 L553.8 567.4 L556.8 567.3 L559.7 567.3 L562.7 567.2 L565.6 567.1 L568.6 567 L571.6 567 L574.5 566.9 L577.5 566.8 L580.5 566.7 L583.4 566.6 L586.4 566.6 L589.4 566.5 L592.3 566.4 L595.3 566.3 L598.2 566.2 L601.2 566.1 L604.2 566 L607.1 565.9 L610.1 565.9 L613.1 566.3 L616 567.9 L619 576.5 L619 576.5 L616 585.3 L613.1 587.1 L610.1 587.6 L607.1 587.7 L604.2 587.8 L601.2 587.9 L598.2 587.9 L595.3 588 L592.3 588 L589.4 588.1 L586.4 588.1 L583.4 588.1 L580.5 588.2 L577.5 588.2 L574.5 588.2 L571.6 588.2 L568.6 588.3 L565.6 588.3 L562.7 588.3 L559.7 588.3 L556.8 588.3 L553.8 588.3 L550.8 588.3 L547.9 588.3 L544.9 588.3 L541.9 587.8 L539 586.3 L536 578Z" fill="#0b0b0b" filter="url(#b1)"/>
</g></g>
<clipPath id="cb">
<rect x="862.2" y="197.8" width="503.8" height="76.6"/>
<rect x="862.2" y="281.4" width="503.8" height="77"/>
<rect x="862.2" y="365" width="503.8" height="78.5"/>
<rect x="862.2" y="449.6" width="503.8" height="78"/>
<rect x="862.2" y="533.6" width="503.8" height="78"/>
</clipPath>
<g filter="url(#bs)"><g clip-path="url(#cb)">
<rect x="862.2" y="197.8" width="503.8" height="76.6" fill="#dddddd"/>
<rect x="862.2" y="281.4" width="503.8" height="77" fill="#d2d2d2"/>
<rect x="862.2" y="365" width="503.8" height="78.5" fill="#b3b3b3"/>
<rect x="862.2" y="449.6" width="503.8" height="78" fill="#cdcdcd"/>
<rect x="862.2" y="533.6" width="503.8" height="78" fill="#8d8d8d"/>
<rect x="958" y="193.8" width="12" height="84.6" fill="#fff" opacity="0.18" filter="url(#b2)"/>
<rect x="954" y="277.4" width="20" height="85" fill="#fff" opacity="0.6" filter="url(#b4)"/>
<rect x="954.5" y="445.6" width="19" height="86" fill="#fff" opacity="0.5" filter="url(#b4)"/>
<rect x="1059" y="193.8" width="12" height="84.6" fill="#fff" opacity="0.18" filter="url(#b2)"/>
<rect x="1055" y="277.4" width="20" height="85" fill="#fff" opacity="0.6" filter="url(#b4)"/>
<rect x="1055.5" y="445.6" width="19" height="86" fill="#fff" opacity="0.5" filter="url(#b4)"/>
<rect x="1160" y="193.8" width="12" height="84.6" fill="#fff" opacity="0.18" filter="url(#b2)"/>
<rect x="1156" y="277.4" width="20" height="85" fill="#fff" opacity="0.6" filter="url(#b4)"/>
<rect x="1156.5" y="445.6" width="19" height="86" fill="#fff" opacity="0.5" filter="url(#b4)"/>
<rect x="1260" y="193.8" width="12" height="84.6" fill="#fff" opacity="0.18" filter="url(#b2)"/>
<rect x="1256" y="277.4" width="20" height="85" fill="#fff" opacity="0.6" filter="url(#b4)"/>
<rect x="1256.5" y="445.6" width="19" height="86" fill="#fff" opacity="0.5" filter="url(#b4)"/>
<rect x="861" y="277.4" width="10" height="85" fill="#fff" opacity="0.45" filter="url(#b2)"/>
<rect x="1357" y="277.4" width="10" height="85" fill="#fff" opacity="0.45" filter="url(#b2)"/>
<rect x="861" y="445.6" width="10" height="86" fill="#fff" opacity="0.3" filter="url(#b2)"/>
<rect x="1357" y="445.6" width="10" height="86" fill="#fff" opacity="0.3" filter="url(#b2)"/>
<path d="M872 234.5 L874.9 231.1 L877.7 231.2 L880.6 231.3 L883.4 231.3 L886.3 231.4 L889.1 231.4 L892 231.5 L894.9 231.5 L897.7 231.5 L900.6 231.5 L903.4 231.5 L906.3 231.5 L909.1 231.5 L912 231.5 L914.9 231.5 L917.7 231.4 L920.6 231.4 L923.4 231.3 L926.3 231.3 L929.1 231.2 L932 231.1 L934.9 231 L937.7 230.9 L940.6 230.8 L943.4 230.7 L946.3 230.5 L949.1 230.4 L952 233.5 L952 233.5 L949.1 236.7 L946.3 236.6 L943.4 236.5 L940.6 236.5 L937.7 236.5 L934.9 236.4 L932 236.4 L929.1 236.4 L926.3 236.4 L923.4 236.4 L920.6 236.4 L917.7 236.4 L914.9 236.5 L912 236.5 L909.1 236.5 L906.3 236.6 L903.4 236.7 L900.6 236.7 L897.7 236.8 L894.9 236.9 L892 237 L889.1 237.1 L886.3 237.3 L883.4 237.4 L880.6 237.5 L877.7 237.7 L874.9 237.8 L872 234.5Z" fill="#9a9a9a" stroke="#9a9a9a" stroke-width="7" stroke-linejoin="round" filter="url(#bh)" opacity="0.3"/>
<path d="M872 234.5 L874.9 231.1 L877.7 231.2 L880.6 231.3 L883.4 231.3 L886.3 231.4 L889.1 231.4 L892 231.5 L894.9 231.5 L897.7 231.5 L900.6 231.5 L903.4 231.5 L906.3 231.5 L909.1 231.5 L912 231.5 L914.9 231.5 L917.7 231.4 L920.6 231.4 L923.4 231.3 L926.3 231.3 L929.1 231.2 L932 231.1 L934.9 231 L937.7 230.9 L940.6 230.8 L943.4 230.7 L946.3 230.5 L949.1 230.4 L952 233.5 L952 233.5 L949.1 236.7 L946.3 236.6 L943.4 236.5 L940.6 236.5 L937.7 236.5 L934.9 236.4 L932 236.4 L929.1 236.4 L926.3 236.4 L923.4 236.4 L920.6 236.4 L917.7 236.4 L914.9 236.5 L912 236.5 L909.1 236.5 L906.3 236.6 L903.4 236.7 L900.6 236.7 L897.7 236.8 L894.9 236.9 L892 237 L889.1 237.1 L886.3 237.3 L883.4 237.4 L880.6 237.5 L877.7 237.7 L874.9 237.8 L872 234.5Z" fill="#9a9a9a" filter="url(#b1)"/>
<path d="M975 234.5 L977.9 226.1 L980.8 224.5 L983.6 224.1 L986.5 224.1 L989.4 224.2 L992.2 224.2 L995.1 224.3 L998 224.4 L1000.9 224.4 L1003.8 224.5 L1006.6 224.6 L1009.5 224.7 L1012.4 224.7 L1015.2 224.8 L1018.1 224.9 L1021 224.9 L1023.9 225 L1026.8 225.1 L1029.6 225.2 L1032.5 225.2 L1035.4 225.3 L1038.2 225.4 L1041.1 225.4 L1044 225.5 L1046.9 225.6 L1049.8 226.1 L1052.6 227.7 L1055.5 236 L1055.5 236 L1052.6 244.2 L1049.8 245.8 L1046.9 246.3 L1044 246.3 L1041.1 246.3 L1038.2 246.3 L1035.4 246.3 L1032.5 246.3 L1029.6 246.3 L1026.8 246.3 L1023.9 246.3 L1021 246.3 L1018.1 246.2 L1015.2 246.2 L1012.4 246.2 L1009.5 246.1 L1006.6 246.1 L1003.8 246 L1000.9 246 L998 245.9 L995.1 245.8 L992.2 245.8 L989.4 245.7 L986.5 245.6 L983.6 245.5 L980.8 244.8 L977.9 243.1 L975 234.5Z" fill="#0b0b0b" stroke="#0b0b0b" stroke-width="7" stroke-linejoin="round" filter="url(#bh)" opacity="0.22"/>
<path d="M975 234.5 L977.9 226.1 L980.8 224.5 L983.6 224.1 L986.5 224.1 L989.4 224.2 L992.2 224.2 L995.1 224.3 L998 224.4 L1000.9 224.4 L1003.8 224.5 L1006.6 224.6 L1009.5 224.7 L1012.4 224.7 L1015.2 224.8 L1018.1 224.9 L1021 224.9 L1023.9 225 L1026.8 225.1 L1029.6 225.2 L1032.5 225.2 L1035.4 225.3 L1038.2 225.4 L1041.1 225.4 L1044 225.5 L1046.9 225.6 L1049.8 226.1 L1052.6 227.7 L1055.5 236 L1055.5 236 L1052.6 244.2 L1049.8 245.8 L1046.9 246.3 L1044 246.3 L1041.1 246.3 L1038.2 246.3 L1035.4 246.3 L1032.5 246.3 L1029.6 246.3 L1026.8 246.3 L1023.9 246.3 L1021 246.3 L1018.1 246.2 L1015.2 246.2 L1012.4 246.2 L1009.5 246.1 L1006.6 246.1 L1003.8 246 L1000.9 246 L998 245.9 L995.1 245.8 L992.2 245.8 L989.4 245.7 L986.5 245.6 L983.6 245.5 L980.8 244.8 L977.9 243.1 L975 234.5Z" fill="#0b0b0b" filter="url(#b1)"/>
<path d="M1073 236.5 L1076 229.2 L1079 228.3 L1082 228.2 L1085 228.3 L1088 228.3 L1091 228.4 L1094 228.4 L1097 228.4 L1100 228.5 L1103 228.5 L1106 228.5 L1109 228.5 L1112 228.5 L1115 228.6 L1118 228.6 L1121 228.6 L1124 228.6 L1127 228.6 L1130 228.5 L1133 228.5 L1136 228.5 L1139 228.5 L1142 228.5 L1145 228.4 L1148 228.4 L1151 228.4 L1154 229.1 L1157 235.5 L1157 235.5 L1154 242 L1151 242.7 L1148 242.8 L1145 242.8 L1142 242.9 L1139 242.9 L1136 243 L1133 243 L1130 243.1 L1127 243.2 L1124 243.2 L1121 243.3 L1118 243.4 L1115 243.4 L1112 243.5 L1109 243.6 L1106 243.7 L1103 243.8 L1100 243.9 L1097 244 L1094 244.1 L1091 244.2 L1088 244.3 L1085 244.4 L1082 244.6 L1079 244.6 L1076 243.7 L1073 236.5Z" fill="#0b0b0b" stroke="#0b0b0b" stroke-width="7" stroke-linejoin="round" filter="url(#bh)" opacity="0.22"/>
<path d="M1073 236.5 L1076 229.2 L1079 228.3 L1082 228.2 L1085 228.3 L1088 228.3 L1091 228.4 L1094 228.4 L1097 228.4 L1100 228.5 L1103 228.5 L1106 228.5 L1109 228.5 L1112 228.5 L1115 228.6 L1118 228.6 L1121 228.6 L1124 228.6 L1127 228.6 L1130 228.5 L1133 228.5 L1136 228.5 L1139 228.5 L1142 228.5 L1145 228.4 L1148 228.4 L1151 228.4 L1154 229.1 L1157 235.5 L1157 235.5 L1154 242 L1151 242.7 L1148 242.8 L1145 242.8 L1142 242.9 L1139 242.9 L1136 243 L1133 243 L1130 243.1 L1127 243.2 L1124 243.2 L1121 243.3 L1118 243.4 L1115 243.4 L1112 243.5 L1109 243.6 L1106 243.7 L1103 243.8 L1100 243.9 L1097 244 L1094 244.1 L1091 244.2 L1088 244.3 L1085 244.4 L1082 244.6 L1079 244.6 L1076 243.7 L1073 236.5Z" fill="#0b0b0b" filter="url(#b1)"/>
<path d="M1180 234.5 L1182.6 232.3 L1185.1 232.3 L1187.7 232.3 L1190.3 232.3 L1192.9 232.2 L1195.4 232.2 L1198 232.2 L1200.6 232.2 L1203.1 232.2 L1205.7 232.2 L1208.3 232.2 L1210.9 232.2 L1213.4 232.2 L1216 232.2 L1218.6 232.2 L1221.1 232.2 L1223.7 232.2 L1226.3 232.2 L1228.9 232.1 L1231.4 232.1 L1234 232.1 L1236.6 232.1 L1239.1 232.1 L1241.7 232.1 L1244.3 232.1 L1246.9 232 L1249.4 232 L1252 234.5 L1252 234.5 L1249.4 236.9 L1246.9 236.9 L1244.3 236.8 L1241.7 236.7 L1239.1 236.7 L1236.6 236.6 L1234 236.6 L1231.4 236.5 L1228.9 236.5 L1226.3 236.5 L1223.7 236.4 L1221.1 236.4 L1218.6 236.4 L1216 236.4 L1213.4 236.4 L1210.9 236.4 L1208.3 236.4 L1205.7 236.4 L1203.1 236.4 L1200.6 236.4 L1198 236.5 L1195.4 236.5 L1192.9 236.5 L1190.3 236.6 L1187.7 236.6 L1185.1 236.6 L1182.6 236.7 L1180 234.5Z" fill="#3c3c3c" stroke="#3c3c3c" stroke-width="7" stroke-linejoin="round" filter="url(#bh)" opacity="0.2"/>
<path d="M1180 234.5 L1182.6 232.3 L1185.1 232.3 L1187.7 232.3 L1190.3 232.3 L1192.9 232.2 L1195.4 232.2 L1198 232.2 L1200.6 232.2 L1203.1 232.2 L1205.7 232.2 L1208.3 232.2 L1210.9 232.2 L1213.4 232.2 L1216 232.2 L1218.6 232.2 L1221.1 232.2 L1223.7 232.2 L1226.3 232.2 L1228.9 232.1 L1231.4 232.1 L1234 232.1 L1236.6 232.1 L1239.1 232.1 L1241.7 232.1 L1244.3 232.1 L1246.9 232 L1249.4 232 L1252 234.5 L1252 234.5 L1249.4 236.9 L1246.9 236.9 L1244.3 236.8 L1241.7 236.7 L1239.1 236.7 L1236.6 236.6 L1234 236.6 L1231.4 236.5 L1228.9 236.5 L1226.3 236.5 L1223.7 236.4 L1221.1 236.4 L1218.6 236.4 L1216 236.4 L1213.4 236.4 L1210.9 236.4 L1208.3 236.4 L1205.7 236.4 L1203.1 236.4 L1200.6 236.4 L1198 236.5 L1195.4 236.5 L1192.9 236.5 L1190.3 236.6 L1187.7 236.6 L1185.1 236.6 L1182.6 236.7 L1180 234.5Z" fill="#3c3c3c" filter="url(#b0)"/>
<path d="M1177.5 234.5 L1178.3 231.7 L1179 231.1 L1179.8 230.8 L1180.6 230.6 L1181.3 230.6 L1182.1 230.6 L1182.9 230.6 L1183.6 230.6 L1184.4 230.7 L1185.2 230.7 L1185.9 230.8 L1186.7 230.8 L1187.5 230.9 L1188.2 231 L1189 231.1 L1189.8 231.2 L1190.6 231.3 L1191.3 231.4 L1192.1 231.6 L1192.9 231.7 L1193.6 231.9 L1194.4 232 L1195.2 232.2 L1195.9 232.4 L1196.7 232.6 L1197.5 232.8 L1198.2 233.1 L1199 234.5 L1199 234.5 L1198.2 235.9 L1197.5 236.2 L1196.7 236.4 L1195.9 236.6 L1195.2 236.8 L1194.4 237 L1193.6 237.1 L1192.9 237.3 L1192.1 237.4 L1191.3 237.6 L1190.6 237.7 L1189.8 237.8 L1189 237.9 L1188.2 238 L1187.5 238.1 L1186.7 238.2 L1185.9 238.2 L1185.2 238.3 L1184.4 238.3 L1183.6 238.4 L1182.9 238.4 L1182.1 238.4 L1181.3 238.4 L1180.6 238.4 L1179.8 238.2 L1179 237.9 L1178.3 237.3 L1177.5 234.5Z" fill="#101010" stroke="#101010" stroke-width="7" stroke-linejoin="round" filter="url(#bh)" opacity="0.15"/>
<path d="M1177.5 234.5 L1178.3 231.7 L1179 231.1 L1179.8 230.8 L1180.6 230.6 L1181.3 230.6 L1182.1 230.6 L1182.9 230.6 L1183.6 230.6 L1184.4 230.7 L1185.2 230.7 L1185.9 230.8 L1186.7 230.8 L1187.5 230.9 L1188.2 231 L1189 231.1 L1189.8 231.2 L1190.6 231.3 L1191.3 231.4 L1192.1 231.6 L1192.9 231.7 L1193.6 231.9 L1194.4 232 L1195.2 232.2 L1195.9 232.4 L1196.7 232.6 L1197.5 232.8 L1198.2 233.1 L1199 234.5 L1199 234.5 L1198.2 235.9 L1197.5 236.2 L1196.7 236.4 L1195.9 236.6 L1195.2 236.8 L1194.4 237 L1193.6 237.1 L1192.9 237.3 L1192.1 237.4 L1191.3 237.6 L1190.6 237.7 L1189.8 237.8 L1189 237.9 L1188.2 238 L1187.5 238.1 L1186.7 238.2 L1185.9 238.2 L1185.2 238.3 L1184.4 238.3 L1183.6 238.4 L1182.9 238.4 L1182.1 238.4 L1181.3 238.4 L1180.6 238.4 L1179.8 238.2 L1179 237.9 L1178.3 237.3 L1177.5 234.5Z" fill="#101010" filter="url(#b0)"/>
<path d="M1227 234.5 L1228 233 L1229 232.6 L1230 232.3 L1231 232.1 L1232 231.8 L1233 231.5 L1234 231.3 L1235 231.1 L1236 230.9 L1237 230.7 L1238 230.5 L1239 230.3 L1240 230.2 L1241 230.1 L1242 229.9 L1243 229.8 L1244 229 L1245 228.9 L1246 228.9 L1247 228.8 L1248 228.8 L1249 228.7 L1250 228.7 L1251 228.8 L1252 229 L1253 229.5 L1254 230.4 L1255 234.3 L1255 234.3 L1254 238.1 L1253 239.1 L1252 239.6 L1251 239.8 L1250 239.8 L1249 239.8 L1248 239.8 L1247 239.7 L1246 239.7 L1245 239.6 L1244 239.6 L1243 238.8 L1242 238.7 L1241 238.6 L1240 238.4 L1239 238.3 L1238 238.1 L1237 238 L1236 237.8 L1235 237.6 L1234 237.4 L1233 237.2 L1232 237 L1231 236.8 L1230 236.5 L1229 236.3 L1228 236 L1227 234.5Z" fill="#101010" stroke="#101010" stroke-width="7" stroke-linejoin="round" filter="url(#bh)" opacity="0.15"/>
<path d="M1227 234.5 L1228 233 L1229 232.6 L1230 232.3 L1231 232.1 L1232 231.8 L1233 231.5 L1234 231.3 L1235 231.1 L1236 230.9 L1237 230.7 L1238 230.5 L1239 230.3 L1240 230.2 L1241 230.1 L1242 229.9 L1243 229.8 L1244 229 L1245 228.9 L1246 228.9 L1247 228.8 L1248 228.8 L1249 228.7 L1250 228.7 L1251 228.8 L1252 229 L1253 229.5 L1254 230.4 L1255 234.3 L1255 234.3 L1254 238.1 L1253 239.1 L1252 239.6 L1251 239.8 L1250 239.8 L1249 239.8 L1248 239.8 L1247 239.7 L1246 239.7 L1245 239.6 L1244 239.6 L1243 238.8 L1242 238.7 L1241 238.6 L1240 238.4 L1239 238.3 L1238 238.1 L1237 238 L1236 237.8 L1235 237.6 L1234 237.4 L1233 237.2 L1232 237 L1231 236.8 L1230 236.5 L1229 236.3 L1228 236 L1227 234.5Z" fill="#101010" filter="url(#b0)"/>
<path d="M1282 234.5 L1284.5 232.8 L1287 232.8 L1289.5 232.8 L1292 232.8 L1294.5 232.9 L1297 232.9 L1299.5 232.9 L1302 232.9 L1304.5 232.9 L1307 232.9 L1309.5 232.9 L1312 232.9 L1314.5 232.9 L1317 232.9 L1319.5 232.9 L1322 232.9 L1324.5 232.9 L1327 232.8 L1329.5 232.8 L1332 232.8 L1334.5 232.8 L1337 232.7 L1339.5 232.7 L1342 232.7 L1344.5 232.6 L1347 232.6 L1349.5 232.5 L1352 234.5 L1352 234.5 L1349.5 236.5 L1347 236.4 L1344.5 236.4 L1342 236.3 L1339.5 236.3 L1337 236.3 L1334.5 236.2 L1332 236.2 L1329.5 236.2 L1327 236.2 L1324.5 236.1 L1322 236.1 L1319.5 236.1 L1317 236.1 L1314.5 236.1 L1312 236.1 L1309.5 236.1 L1307 236.1 L1304.5 236.1 L1302 236.1 L1299.5 236.1 L1297 236.1 L1294.5 236.1 L1292 236.2 L1289.5 236.2 L1287 236.2 L1284.5 236.2 L1282 234.5Z" fill="#666" stroke="#666" stroke-width="7" stroke-linejoin="round" filter="url(#bh)" opacity="0.2"/>
<path d="M1282 234.5 L1284.5 232.8 L1287 232.8 L1289.5 232.8 L1292 232.8 L1294.5 232.9 L1297 232.9 L1299.5 232.9 L1302 232.9 L1304.5 232.9 L1307 232.9 L1309.5 232.9 L1312 232.9 L1314.5 232.9 L1317 232.9 L1319.5 232.9 L1322 232.9 L1324.5 232.9 L1327 232.8 L1329.5 232.8 L1332 232.8 L1334.5 232.8 L1337 232.7 L1339.5 232.7 L1342 232.7 L1344.5 232.6 L1347 232.6 L1349.5 232.5 L1352 234.5 L1352 234.5 L1349.5 236.5 L1347 236.4 L1344.5 236.4 L1342 236.3 L1339.5 236.3 L1337 236.3 L1334.5 236.2 L1332 236.2 L1329.5 236.2 L1327 236.2 L1324.5 236.1 L1322 236.1 L1319.5 236.1 L1317 236.1 L1314.5 236.1 L1312 236.1 L1309.5 236.1 L1307 236.1 L1304.5 236.1 L1302 236.1 L1299.5 236.1 L1297 236.1 L1294.5 236.1 L1292 236.2 L1289.5 236.2 L1287 236.2 L1284.5 236.2 L1282 234.5Z" fill="#666" filter="url(#b0)"/>
<path d="M1279.5 234.5 L1280.1 231.8 L1280.8 231.1 L1281.4 230.7 L1282 230.5 L1282.6 230.4 L1283.2 230.3 L1283.9 230.3 L1284.5 230.4 L1285.1 230.4 L1285.8 230.4 L1286.4 230.5 L1287 230.6 L1287.6 230.7 L1288.2 230.8 L1288.9 230.9 L1289.5 231 L1290.1 231.1 L1290.8 231.2 L1291.4 231.4 L1292 231.5 L1292.6 231.7 L1293.2 231.9 L1293.9 232.1 L1294.5 232.3 L1295.1 232.5 L1295.8 232.8 L1296.4 233.2 L1297 234.5 L1297 234.5 L1296.4 235.8 L1295.8 236.2 L1295.1 236.5 L1294.5 236.7 L1293.9 236.9 L1293.2 237.1 L1292.6 237.3 L1292 237.5 L1291.4 237.6 L1290.8 237.8 L1290.1 237.9 L1289.5 238 L1288.9 238.1 L1288.2 238.2 L1287.6 238.3 L1287 238.4 L1286.4 238.5 L1285.8 238.6 L1285.1 238.6 L1284.5 238.6 L1283.9 238.7 L1283.2 238.7 L1282.6 238.6 L1282 238.5 L1281.4 238.3 L1280.8 237.9 L1280.1 237.2 L1279.5 234.5Z" fill="#101010" stroke="#101010" stroke-width="7" stroke-linejoin="round" filter="url(#bh)" opacity="0.15"/>
<path d="M1279.5 234.5 L1280.1 231.8 L1280.8 231.1 L1281.4 230.7 L1282 230.5 L1282.6 230.4 L1283.2 230.3 L1283.9 230.3 L1284.5 230.4 L1285.1 230.4 L1285.8 230.4 L1286.4 230.5 L1287 230.6 L1287.6 230.7 L1288.2 230.8 L1288.9 230.9 L1289.5 231 L1290.1 231.1 L1290.8 231.2 L1291.4 231.4 L1292 231.5 L1292.6 231.7 L1293.2 231.9 L1293.9 232.1 L1294.5 232.3 L1295.1 232.5 L1295.8 232.8 L1296.4 233.2 L1297 234.5 L1297 234.5 L1296.4 235.8 L1295.8 236.2 L1295.1 236.5 L1294.5 236.7 L1293.9 236.9 L1293.2 237.1 L1292.6 237.3 L1292 237.5 L1291.4 237.6 L1290.8 237.8 L1290.1 237.9 L1289.5 238 L1288.9 238.1 L1288.2 238.2 L1287.6 238.3 L1287 238.4 L1286.4 238.5 L1285.8 238.6 L1285.1 238.6 L1284.5 238.6 L1283.9 238.7 L1283.2 238.7 L1282.6 238.6 L1282 238.5 L1281.4 238.3 L1280.8 237.9 L1280.1 237.2 L1279.5 234.5Z" fill="#101010" filter="url(#b0)"/>
<path d="M1325 234.5 L1326.1 232.9 L1327.1 232.5 L1328.2 232.2 L1329.3 231.9 L1330.4 231.6 L1331.4 231.3 L1332.5 231 L1333.6 230.8 L1334.6 230.5 L1335.7 230.3 L1336.8 230.1 L1337.9 229.9 L1338.9 229 L1340 228.9 L1341.1 228.7 L1342.1 228.6 L1343.2 228.4 L1344.3 228.3 L1345.4 228.2 L1346.4 228.2 L1347.5 228.1 L1348.6 228.1 L1349.6 228 L1350.7 228.1 L1351.8 228.4 L1352.9 228.9 L1353.9 230 L1355 234.3 L1355 234.3 L1353.9 238.6 L1352.9 239.6 L1351.8 240.2 L1350.7 240.4 L1349.6 240.5 L1348.6 240.5 L1347.5 240.4 L1346.4 240.4 L1345.4 240.3 L1344.3 240.2 L1343.2 240.1 L1342.1 240 L1341.1 239.9 L1340 239.8 L1338.9 239.6 L1337.9 238.7 L1336.8 238.6 L1335.7 238.4 L1334.6 238.2 L1333.6 237.9 L1332.5 237.7 L1331.4 237.5 L1330.4 237.2 L1329.3 237 L1328.2 236.7 L1327.1 236.4 L1326.1 236 L1325 234.5Z" fill="#101010" stroke="#101010" stroke-width="7" stroke-linejoin="round" filter="url(#bh)" opacity="0.15"/>
<path d="M1325 234.5 L1326.1 232.9 L1327.1 232.5 L1328.2 232.2 L1329.3 231.9 L1330.4 231.6 L1331.4 231.3 L1332.5 231 L1333.6 230.8 L1334.6 230.5 L1335.7 230.3 L1336.8 230.1 L1337.9 229.9 L1338.9 229 L1340 228.9 L1341.1 228.7 L1342.1 228.6 L1343.2 228.4 L1344.3 228.3 L1345.4 228.2 L1346.4 228.2 L1347.5 228.1 L1348.6 228.1 L1349.6 228 L1350.7 228.1 L1351.8 228.4 L1352.9 228.9 L1353.9 230 L1355 234.3 L1355 234.3 L1353.9 238.6 L1352.9 239.6 L1351.8 240.2 L1350.7 240.4 L1349.6 240.5 L1348.6 240.5 L1347.5 240.4 L1346.4 240.4 L1345.4 240.3 L1344.3 240.2 L1343.2 240.1 L1342.1 240 L1341.1 239.9 L1340 239.8 L1338.9 239.6 L1337.9 238.7 L1336.8 238.6 L1335.7 238.4 L1334.6 238.2 L1333.6 237.9 L1332.5 237.7 L1331.4 237.5 L1330.4 237.2 L1329.3 237 L1328.2 236.7 L1327.1 236.4 L1326.1 236 L1325 234.5Z" fill="#101010" filter="url(#b0)"/>
<rect x="875" y="326" width="74" height="36" fill="url(#sm)" opacity="0.3" filter="url(#b3)"/>
<rect x="979" y="326" width="71" height="36" fill="url(#sm)" opacity="0.3" filter="url(#b3)"/>
<rect x="1081" y="326" width="70" height="36" fill="url(#sm)" opacity="0.3" filter="url(#b3)"/>
<rect x="1182" y="326" width="70" height="36" fill="url(#sm)" opacity="0.3" filter="url(#b3)"/>
<rect x="1282" y="326" width="70" height="36" fill="url(#sm)" opacity="0.3" filter="url(#b3)"/>
<path d="M872 322.5 L874.8 312.5 L877.7 310.1 L880.5 309 L883.4 308.6 L886.2 308.3 L889 308.2 L891.9 308 L894.7 307.8 L897.6 307.7 L900.4 307.6 L903.2 307.5 L906.1 307.4 L908.9 307.3 L911.8 307.2 L914.6 307.2 L917.4 307.2 L920.3 307.2 L923.1 307.2 L925.9 307.2 L928.8 307.3 L931.6 307.3 L934.5 307.4 L937.3 307.5 L940.1 307.6 L943 308 L945.8 309 L948.7 311.3 L951.5 321.2 L951.5 321.2 L948.7 330.5 L945.8 332.2 L943 332.7 L940.1 332.5 L937.3 332.2 L934.5 332 L931.6 331.7 L928.8 331.5 L925.9 331.4 L923.1 331.3 L920.3 331.2 L917.4 331.1 L914.6 331.1 L911.8 331.1 L908.9 331.2 L906.1 331.3 L903.2 331.5 L900.4 331.6 L897.6 331.8 L894.7 332.1 L891.9 332.4 L889 332.7 L886.2 333.1 L883.4 333.5 L880.5 333.7 L877.7 333.3 L874.8 331.7 L872 322.5Z" fill="#0b0b0b" stroke="#0b0b0b" stroke-width="7" stroke-linejoin="round" filter="url(#bh)" opacity="0.22"/>
<path d="M872 322.5 L874.8 312.5 L877.7 310.1 L880.5 309 L883.4 308.6 L886.2 308.3 L889 308.2 L891.9 308 L894.7 307.8 L897.6 307.7 L900.4 307.6 L903.2 307.5 L906.1 307.4 L908.9 307.3 L911.8 307.2 L914.6 307.2 L917.4 307.2 L920.3 307.2 L923.1 307.2 L925.9 307.2 L928.8 307.3 L931.6 307.3 L934.5 307.4 L937.3 307.5 L940.1 307.6 L943 308 L945.8 309 L948.7 311.3 L951.5 321.2 L951.5 321.2 L948.7 330.5 L945.8 332.2 L943 332.7 L940.1 332.5 L937.3 332.2 L934.5 332 L931.6 331.7 L928.8 331.5 L925.9 331.4 L923.1 331.3 L920.3 331.2 L917.4 331.1 L914.6 331.1 L911.8 331.1 L908.9 331.2 L906.1 331.3 L903.2 331.5 L900.4 331.6 L897.6 331.8 L894.7 332.1 L891.9 332.4 L889 332.7 L886.2 333.1 L883.4 333.5 L880.5 333.7 L877.7 333.3 L874.8 331.7 L872 322.5Z" fill="#0b0b0b" filter="url(#b1)"/>
<path d="M976 321.5 L978.8 311.8 L981.5 309.5 L984.2 308.4 L987 308 L989.8 307.7 L992.5 307.5 L995.2 307.3 L998 307.1 L1000.8 306.9 L1003.5 306.8 L1006.2 306.7 L1009 306.5 L1011.8 306.4 L1014.5 306.4 L1017.2 306.3 L1020 306.2 L1022.8 306.2 L1025.5 306.2 L1028.2 306.2 L1031 306.2 L1033.8 306.2 L1036.5 306.2 L1039.2 306.3 L1042 306.4 L1044.8 306.7 L1047.5 307.7 L1050.2 310 L1053 319.8 L1053 319.8 L1050.2 328.9 L1047.5 330.6 L1044.8 331.1 L1042 330.9 L1039.2 330.6 L1036.5 330.2 L1033.8 330 L1031 329.7 L1028.2 329.6 L1025.5 329.4 L1022.8 329.3 L1020 329.2 L1017.2 329.2 L1014.5 329.2 L1011.8 329.3 L1009 329.4 L1006.2 329.6 L1003.5 329.8 L1000.8 330 L998 330.3 L995.2 330.6 L992.5 330.9 L989.8 331.3 L987 331.8 L984.2 332.1 L981.5 331.7 L978.8 330.3 L976 321.5Z" fill="#0b0b0b" stroke="#0b0b0b" stroke-width="7" stroke-linejoin="round" filter="url(#bh)" opacity="0.22"/>
<path d="M976 321.5 L978.8 311.8 L981.5 309.5 L984.2 308.4 L987 308 L989.8 307.7 L992.5 307.5 L995.2 307.3 L998 307.1 L1000.8 306.9 L1003.5 306.8 L1006.2 306.7 L1009 306.5 L1011.8 306.4 L1014.5 306.4 L1017.2 306.3 L1020 306.2 L1022.8 306.2 L1025.5 306.2 L1028.2 306.2 L1031 306.2 L1033.8 306.2 L1036.5 306.2 L1039.2 306.3 L1042 306.4 L1044.8 306.7 L1047.5 307.7 L1050.2 310 L1053 319.8 L1053 319.8 L1050.2 328.9 L1047.5 330.6 L1044.8 331.1 L1042 330.9 L1039.2 330.6 L1036.5 330.2 L1033.8 330 L1031 329.7 L1028.2 329.6 L1025.5 329.4 L1022.8 329.3 L1020 329.2 L1017.2 329.2 L1014.5 329.2 L1011.8 329.3 L1009 329.4 L1006.2 329.6 L1003.5 329.8 L1000.8 330 L998 330.3 L995.2 330.6 L992.5 330.9 L989.8 331.3 L987 331.8 L984.2 332.1 L981.5 331.7 L978.8 330.3 L976 321.5Z" fill="#0b0b0b" filter="url(#b1)"/>
<path d="M1078 321 L1080.7 311.5 L1083.4 309.4 L1086.1 308.4 L1088.8 308.1 L1091.5 308 L1094.2 307.9 L1096.9 307.9 L1099.6 307.8 L1102.3 307.7 L1105 307.7 L1107.7 307.6 L1110.4 307.6 L1113.1 307.6 L1115.8 307.6 L1118.4 307.5 L1121.1 307.5 L1123.8 307.5 L1126.5 307.5 L1129.2 307.6 L1131.9 307.6 L1134.6 307.6 L1137.3 307.7 L1140 307.7 L1142.7 307.8 L1145.4 308.1 L1148.1 309.1 L1150.8 311.3 L1153.5 321 L1153.5 321 L1150.8 330.1 L1148.1 331.8 L1145.4 332.4 L1142.7 332.3 L1140 332 L1137.3 331.7 L1134.6 331.4 L1131.9 331.2 L1129.2 331 L1126.5 330.8 L1123.8 330.7 L1121.1 330.6 L1118.4 330.5 L1115.8 330.4 L1113.1 330.4 L1110.4 330.5 L1107.7 330.5 L1105 330.6 L1102.3 330.8 L1099.6 330.9 L1096.9 331.1 L1094.2 331.4 L1091.5 331.6 L1088.8 331.9 L1086.1 332 L1083.4 331.5 L1080.7 329.9 L1078 321Z" fill="#0b0b0b" stroke="#0b0b0b" stroke-width="7" stroke-linejoin="round" filter="url(#bh)" opacity="0.22"/>
<path d="M1078 321 L1080.7 311.5 L1083.4 309.4 L1086.1 308.4 L1088.8 308.1 L1091.5 308 L1094.2 307.9 L1096.9 307.9 L1099.6 307.8 L1102.3 307.7 L1105 307.7 L1107.7 307.6 L1110.4 307.6 L1113.1 307.6 L1115.8 307.6 L1118.4 307.5 L1121.1 307.5 L1123.8 307.5 L1126.5 307.5 L1129.2 307.6 L1131.9 307.6 L1134.6 307.6 L1137.3 307.7 L1140 307.7 L1142.7 307.8 L1145.4 308.1 L1148.1 309.1 L1150.8 311.3 L1153.5 321 L1153.5 321 L1150.8 330.1 L1148.1 331.8 L1145.4 332.4 L1142.7 332.3 L1140 332 L1137.3 331.7 L1134.6 331.4 L1131.9 331.2 L1129.2 331 L1126.5 330.8 L1123.8 330.7 L1121.1 330.6 L1118.4 330.5 L1115.8 330.4 L1113.1 330.4 L1110.4 330.5 L1107.7 330.5 L1105 330.6 L1102.3 330.8 L1099.6 330.9 L1096.9 331.1 L1094.2 331.4 L1091.5 331.6 L1088.8 331.9 L1086.1 332 L1083.4 331.5 L1080.7 329.9 L1078 321Z" fill="#0b0b0b" filter="url(#b1)"/>
<path d="M1178.5 320.5 L1181.2 310.9 L1184 308.7 L1186.7 307.8 L1189.4 307.5 L1192.2 307.4 L1194.9 307.4 L1197.6 307.4 L1200.4 307.4 L1203.1 307.4 L1205.8 307.4 L1208.6 307.4 L1211.3 307.4 L1214 307.4 L1216.8 307.4 L1219.5 307.4 L1222.2 307.4 L1224.9 307.4 L1227.7 307.4 L1230.4 307.4 L1233.1 307.4 L1235.9 307.4 L1238.6 307.4 L1241.3 307.4 L1244.1 307.5 L1246.8 307.8 L1249.5 308.7 L1252.3 310.9 L1255 320.5 L1255 320.5 L1252.3 329.8 L1249.5 331.7 L1246.8 332.3 L1244.1 332.4 L1241.3 332.2 L1238.6 332 L1235.9 331.8 L1233.1 331.7 L1230.4 331.5 L1227.7 331.4 L1224.9 331.4 L1222.2 331.3 L1219.5 331.3 L1216.8 331.2 L1214 331.3 L1211.3 331.3 L1208.6 331.4 L1205.8 331.4 L1203.1 331.5 L1200.4 331.7 L1197.6 331.8 L1194.9 332 L1192.2 332.2 L1189.4 332.4 L1186.7 332.3 L1184 331.7 L1181.2 329.8 L1178.5 320.5Z" fill="#0b0b0b" stroke="#0b0b0b" stroke-width="7" stroke-linejoin="round" filter="url(#bh)" opacity="0.22"/>
<path d="M1178.5 320.5 L1181.2 310.9 L1184 308.7 L1186.7 307.8 L1189.4 307.5 L1192.2 307.4 L1194.9 307.4 L1197.6 307.4 L1200.4 307.4 L1203.1 307.4 L1205.8 307.4 L1208.6 307.4 L1211.3 307.4 L1214 307.4 L1216.8 307.4 L1219.5 307.4 L1222.2 307.4 L1224.9 307.4 L1227.7 307.4 L1230.4 307.4 L1233.1 307.4 L1235.9 307.4 L1238.6 307.4 L1241.3 307.4 L1244.1 307.5 L1246.8 307.8 L1249.5 308.7 L1252.3 310.9 L1255 320.5 L1255 320.5 L1252.3 329.8 L1249.5 331.7 L1246.8 332.3 L1244.1 332.4 L1241.3 332.2 L1238.6 332 L1235.9 331.8 L1233.1 331.7 L1230.4 331.5 L1227.7 331.4 L1224.9 331.4 L1222.2 331.3 L1219.5 331.3 L1216.8 331.2 L1214 331.3 L1211.3 331.3 L1208.6 331.4 L1205.8 331.4 L1203.1 331.5 L1200.4 331.7 L1197.6 331.8 L1194.9 332 L1192.2 332.2 L1189.4 332.4 L1186.7 332.3 L1184 331.7 L1181.2 329.8 L1178.5 320.5Z" fill="#0b0b0b" filter="url(#b1)"/>
<path d="M1279.5 320.5 L1282.2 311 L1284.9 308.9 L1287.6 308 L1290.3 307.8 L1293 307.8 L1295.7 307.8 L1298.4 307.8 L1301.1 307.9 L1303.8 307.9 L1306.5 307.9 L1309.2 307.9 L1311.9 307.9 L1314.6 307.9 L1317.2 307.9 L1319.9 307.8 L1322.6 307.8 L1325.3 307.8 L1328 307.7 L1330.7 307.7 L1333.4 307.6 L1336.1 307.6 L1338.8 307.5 L1341.5 307.5 L1344.2 307.4 L1346.9 307.6 L1349.6 308.5 L1352.3 310.5 L1355 320 L1355 320 L1352.3 329.4 L1349.6 331.4 L1346.9 332.1 L1344.2 332.3 L1341.5 332.2 L1338.8 332.1 L1336.1 332 L1333.4 331.9 L1330.7 331.8 L1328 331.8 L1325.3 331.8 L1322.6 331.7 L1319.9 331.7 L1317.2 331.8 L1314.6 331.8 L1311.9 331.8 L1309.2 331.9 L1306.5 331.9 L1303.8 332 L1301.1 332.1 L1298.4 332.2 L1295.7 332.4 L1293 332.5 L1290.3 332.7 L1287.6 332.5 L1284.9 331.8 L1282.2 329.9 L1279.5 320.5Z" fill="#0b0b0b" stroke="#0b0b0b" stroke-width="7" stroke-linejoin="round" filter="url(#bh)" opacity="0.22"/>
<path d="M1279.5 320.5 L1282.2 311 L1284.9 308.9 L1287.6 308 L1290.3 307.8 L1293 307.8 L1295.7 307.8 L1298.4 307.8 L1301.1 307.9 L1303.8 307.9 L1306.5 307.9 L1309.2 307.9 L1311.9 307.9 L1314.6 307.9 L1317.2 307.9 L1319.9 307.8 L1322.6 307.8 L1325.3 307.8 L1328 307.7 L1330.7 307.7 L1333.4 307.6 L1336.1 307.6 L1338.8 307.5 L1341.5 307.5 L1344.2 307.4 L1346.9 307.6 L1349.6 308.5 L1352.3 310.5 L1355 320 L1355 320 L1352.3 329.4 L1349.6 331.4 L1346.9 332.1 L1344.2 332.3 L1341.5 332.2 L1338.8 332.1 L1336.1 332 L1333.4 331.9 L1330.7 331.8 L1328 331.8 L1325.3 331.8 L1322.6 331.7 L1319.9 331.7 L1317.2 331.8 L1314.6 331.8 L1311.9 331.8 L1309.2 331.9 L1306.5 331.9 L1303.8 332 L1301.1 332.1 L1298.4 332.2 L1295.7 332.4 L1293 332.5 L1290.3 332.7 L1287.6 332.5 L1284.9 331.8 L1282.2 329.9 L1279.5 320.5Z" fill="#0b0b0b" filter="url(#b1)"/>
<path d="M875 408.5 L877.6 403.3 L880.3 403 L882.9 403 L885.6 403.1 L888.2 403.1 L890.9 403.2 L893.5 403.2 L896.1 403.2 L898.8 403.2 L901.4 403.2 L904.1 403.2 L906.7 403.1 L909.4 403.1 L912 403.1 L914.6 403 L917.3 402.9 L919.9 402.8 L922.6 402.8 L925.2 402.7 L927.9 402.5 L930.5 402.4 L933.1 402.3 L935.8 402.2 L938.4 402 L941.1 401.8 L943.7 401.7 L946.4 402.1 L949 407.5 L949 407.5 L946.4 413.1 L943.7 413.7 L941.1 413.8 L938.4 413.8 L935.8 413.8 L933.1 413.8 L930.5 413.8 L927.9 413.8 L925.2 413.9 L922.6 413.9 L919.9 413.9 L917.3 413.9 L914.6 413.9 L912 413.9 L909.4 414 L906.7 414 L904.1 414 L901.4 414 L898.8 414 L896.1 414.1 L893.5 414.1 L890.9 414.1 L888.2 414.1 L885.6 414.1 L882.9 414.1 L880.3 414.2 L877.6 413.7 L875 408.5Z" fill="#0b0b0b" stroke="#0b0b0b" stroke-width="7" stroke-linejoin="round" filter="url(#bh)" opacity="0.22"/>
<path d="M875 408.5 L877.6 403.3 L880.3 403 L882.9 403 L885.6 403.1 L888.2 403.1 L890.9 403.2 L893.5 403.2 L896.1 403.2 L898.8 403.2 L901.4 403.2 L904.1 403.2 L906.7 403.1 L909.4 403.1 L912 403.1 L914.6 403 L917.3 402.9 L919.9 402.8 L922.6 402.8 L925.2 402.7 L927.9 402.5 L930.5 402.4 L933.1 402.3 L935.8 402.2 L938.4 402 L941.1 401.8 L943.7 401.7 L946.4 402.1 L949 407.5 L949 407.5 L946.4 413.1 L943.7 413.7 L941.1 413.8 L938.4 413.8 L935.8 413.8 L933.1 413.8 L930.5 413.8 L927.9 413.8 L925.2 413.9 L922.6 413.9 L919.9 413.9 L917.3 413.9 L914.6 413.9 L912 413.9 L909.4 414 L906.7 414 L904.1 414 L901.4 414 L898.8 414 L896.1 414.1 L893.5 414.1 L890.9 414.1 L888.2 414.1 L885.6 414.1 L882.9 414.1 L880.3 414.2 L877.6 413.7 L875 408.5Z" fill="#0b0b0b" filter="url(#b1)"/>
<path d="M966.5 404 L969.7 393.8 L972.9 391.3 L976.1 390.2 L979.4 389.6 L982.6 389.2 L985.8 388.7 L989 388.4 L992.2 388 L995.4 387.7 L998.6 387.5 L1001.9 387.2 L1005.1 387.1 L1008.3 386.9 L1011.5 386.8 L1014.7 386.7 L1017.9 386.7 L1021.1 386.7 L1024.4 386.7 L1027.6 386.8 L1030.8 387 L1034 387.1 L1037.2 387.3 L1040.4 387.5 L1043.6 387.8 L1046.9 388.3 L1050.1 389.4 L1053.3 391.9 L1056.5 402.5 L1056.5 402.5 L1053.3 412.3 L1050.1 414.1 L1046.9 414.6 L1043.6 414.4 L1040.4 414.2 L1037.2 414 L1034 413.8 L1030.8 413.6 L1027.6 413.5 L1024.4 413.4 L1021.1 413.3 L1017.9 413.2 L1014.7 413.2 L1011.5 413.2 L1008.3 413.2 L1005.1 413.3 L1001.9 413.4 L998.6 413.5 L995.4 413.6 L992.2 413.8 L989 414 L985.8 414.2 L982.6 414.5 L979.4 414.8 L976.1 415 L972.9 414.7 L969.7 413.2 L966.5 404Z" fill="#0b0b0b" stroke="#0b0b0b" stroke-width="7" stroke-linejoin="round" filter="url(#bh)" opacity="0.22"/>
<path d="M966.5 404 L969.7 393.8 L972.9 391.3 L976.1 390.2 L979.4 389.6 L982.6 389.2 L985.8 388.7 L989 388.4 L992.2 388 L995.4 387.7 L998.6 387.5 L1001.9 387.2 L1005.1 387.1 L1008.3 386.9 L1011.5 386.8 L1014.7 386.7 L1017.9 386.7 L1021.1 386.7 L1024.4 386.7 L1027.6 386.8 L1030.8 387 L1034 387.1 L1037.2 387.3 L1040.4 387.5 L1043.6 387.8 L1046.9 388.3 L1050.1 389.4 L1053.3 391.9 L1056.5 402.5 L1056.5 402.5 L1053.3 412.3 L1050.1 414.1 L1046.9 414.6 L1043.6 414.4 L1040.4 414.2 L1037.2 414 L1034 413.8 L1030.8 413.6 L1027.6 413.5 L1024.4 413.4 L1021.1 413.3 L1017.9 413.2 L1014.7 413.2 L1011.5 413.2 L1008.3 413.2 L1005.1 413.3 L1001.9 413.4 L998.6 413.5 L995.4 413.6 L992.2 413.8 L989 414 L985.8 414.2 L982.6 414.5 L979.4 414.8 L976.1 415 L972.9 414.7 L969.7 413.2 L966.5 404Z" fill="#0b0b0b" filter="url(#b1)"/>
<path d="M1068.5 402.5 L1071.5 394.2 L1074.6 392.7 L1077.6 392.3 L1080.6 392.3 L1083.7 392.4 L1086.7 392.4 L1089.8 392.5 L1092.8 392.6 L1095.8 392.7 L1098.9 392.8 L1101.9 392.9 L1104.9 393 L1108 393.1 L1111 393.3 L1114 393.5 L1117.1 393.6 L1120.1 393.8 L1123.1 394 L1126.2 394.3 L1129.2 394.5 L1132.2 394.7 L1135.3 395 L1138.3 395.3 L1141.4 395.5 L1144.4 395.8 L1147.4 396.4 L1150.5 398 L1153.5 406 L1153.5 406 L1150.5 413.8 L1147.4 415.2 L1144.4 415.6 L1141.4 415.7 L1138.3 415.8 L1135.3 415.8 L1132.2 415.9 L1129.2 415.9 L1126.2 415.9 L1123.1 415.9 L1120.1 415.9 L1117.1 415.8 L1114 415.8 L1111 415.7 L1108 415.6 L1104.9 415.5 L1101.9 415.4 L1098.9 415.2 L1095.8 415 L1092.8 414.8 L1089.8 414.6 L1086.7 414.4 L1083.7 414.2 L1080.6 413.9 L1077.6 413.6 L1074.6 412.9 L1071.5 411.1 L1068.5 402.5Z" fill="#0b0b0b" stroke="#0b0b0b" stroke-width="7" stroke-linejoin="round" filter="url(#bh)" opacity="0.22"/>
<path d="M1068.5 402.5 L1071.5 394.2 L1074.6 392.7 L1077.6 392.3 L1080.6 392.3 L1083.7 392.4 L1086.7 392.4 L1089.8 392.5 L1092.8 392.6 L1095.8 392.7 L1098.9 392.8 L1101.9 392.9 L1104.9 393 L1108 393.1 L1111 393.3 L1114 393.5 L1117.1 393.6 L1120.1 393.8 L1123.1 394 L1126.2 394.3 L1129.2 394.5 L1132.2 394.7 L1135.3 395 L1138.3 395.3 L1141.4 395.5 L1144.4 395.8 L1147.4 396.4 L1150.5 398 L1153.5 406 L1153.5 406 L1150.5 413.8 L1147.4 415.2 L1144.4 415.6 L1141.4 415.7 L1138.3 415.8 L1135.3 415.8 L1132.2 415.9 L1129.2 415.9 L1126.2 415.9 L1123.1 415.9 L1120.1 415.9 L1117.1 415.8 L1114 415.8 L1111 415.7 L1108 415.6 L1104.9 415.5 L1101.9 415.4 L1098.9 415.2 L1095.8 415 L1092.8 414.8 L1089.8 414.6 L1086.7 414.4 L1083.7 414.2 L1080.6 413.9 L1077.6 413.6 L1074.6 412.9 L1071.5 411.1 L1068.5 402.5Z" fill="#0b0b0b" filter="url(#b1)"/>
<path d="M1173.5 407.5 L1176.3 400.8 L1179.1 400 L1182 399.9 L1184.8 399.9 L1187.6 400 L1190.4 400 L1193.2 400.1 L1196.1 400.1 L1198.9 400.1 L1201.7 400.2 L1204.5 400.2 L1207.4 400.2 L1210.2 400.3 L1213 400.3 L1215.8 400.3 L1218.6 400.4 L1221.5 400.4 L1224.3 400.4 L1227.1 400.5 L1229.9 400.5 L1232.8 400.6 L1235.6 400.6 L1238.4 400.6 L1241.2 400.7 L1244 400.7 L1246.9 400.8 L1249.7 401.6 L1252.5 408 L1252.5 408 L1249.7 414.4 L1246.9 415.3 L1244 415.4 L1241.2 415.4 L1238.4 415.5 L1235.6 415.5 L1232.8 415.6 L1229.9 415.6 L1227.1 415.6 L1224.3 415.7 L1221.5 415.7 L1218.6 415.7 L1215.8 415.7 L1213 415.7 L1210.2 415.7 L1207.4 415.7 L1204.5 415.7 L1201.7 415.7 L1198.9 415.6 L1196.1 415.6 L1193.2 415.6 L1190.4 415.5 L1187.6 415.5 L1184.8 415.4 L1182 415.4 L1179.1 415.3 L1176.3 414.3 L1173.5 407.5Z" fill="#0b0b0b" stroke="#0b0b0b" stroke-width="7" stroke-linejoin="round" filter="url(#bh)" opacity="0.22"/>
<path d="M1173.5 407.5 L1176.3 400.8 L1179.1 400 L1182 399.9 L1184.8 399.9 L1187.6 400 L1190.4 400 L1193.2 400.1 L1196.1 400.1 L1198.9 400.1 L1201.7 400.2 L1204.5 400.2 L1207.4 400.2 L1210.2 400.3 L1213 400.3 L1215.8 400.3 L1218.6 400.4 L1221.5 400.4 L1224.3 400.4 L1227.1 400.5 L1229.9 400.5 L1232.8 400.6 L1235.6 400.6 L1238.4 400.6 L1241.2 400.7 L1244 400.7 L1246.9 400.8 L1249.7 401.6 L1252.5 408 L1252.5 408 L1249.7 414.4 L1246.9 415.3 L1244 415.4 L1241.2 415.4 L1238.4 415.5 L1235.6 415.5 L1232.8 415.6 L1229.9 415.6 L1227.1 415.6 L1224.3 415.7 L1221.5 415.7 L1218.6 415.7 L1215.8 415.7 L1213 415.7 L1210.2 415.7 L1207.4 415.7 L1204.5 415.7 L1201.7 415.7 L1198.9 415.6 L1196.1 415.6 L1193.2 415.6 L1190.4 415.5 L1187.6 415.5 L1184.8 415.4 L1182 415.4 L1179.1 415.3 L1176.3 414.3 L1173.5 407.5Z" fill="#0b0b0b" filter="url(#b1)"/>
<path d="M1273 408 L1275.9 401.6 L1278.8 400.9 L1281.7 400.8 L1284.6 400.9 L1287.6 400.9 L1290.5 400.9 L1293.4 400.9 L1296.3 400.9 L1299.2 400.9 L1302.1 400.9 L1305 400.8 L1307.9 400.8 L1310.8 400.8 L1313.8 400.8 L1316.7 400.8 L1319.6 400.8 L1322.5 400.7 L1325.4 400.7 L1328.3 400.7 L1331.2 400.6 L1334.1 400.6 L1337 400.6 L1339.9 400.5 L1342.9 400.5 L1345.8 400.4 L1348.7 400.5 L1351.6 401.3 L1354.5 408 L1354.5 408 L1351.6 414.8 L1348.7 415.8 L1345.8 415.9 L1342.9 416 L1339.9 416.1 L1337 416.1 L1334.1 416.1 L1331.2 416.2 L1328.3 416.2 L1325.4 416.2 L1322.5 416.2 L1319.6 416.2 L1316.7 416.2 L1313.8 416.2 L1310.8 416.2 L1307.9 416.1 L1305 416.1 L1302.1 416.1 L1299.2 416 L1296.3 416 L1293.4 415.9 L1290.5 415.8 L1287.6 415.7 L1284.6 415.6 L1281.7 415.5 L1278.8 415.4 L1275.9 414.5 L1273 408Z" fill="#0b0b0b" stroke="#0b0b0b" stroke-width="7" stroke-linejoin="round" filter="url(#bh)" opacity="0.22"/>
<path d="M1273 408 L1275.9 401.6 L1278.8 400.9 L1281.7 400.8 L1284.6 400.9 L1287.6 400.9 L1290.5 400.9 L1293.4 400.9 L1296.3 400.9 L1299.2 400.9 L1302.1 400.9 L1305 400.8 L1307.9 400.8 L1310.8 400.8 L1313.8 400.8 L1316.7 400.8 L1319.6 400.8 L1322.5 400.7 L1325.4 400.7 L1328.3 400.7 L1331.2 400.6 L1334.1 400.6 L1337 400.6 L1339.9 400.5 L1342.9 400.5 L1345.8 400.4 L1348.7 400.5 L1351.6 401.3 L1354.5 408 L1354.5 408 L1351.6 414.8 L1348.7 415.8 L1345.8 415.9 L1342.9 416 L1339.9 416.1 L1337 416.1 L1334.1 416.1 L1331.2 416.2 L1328.3 416.2 L1325.4 416.2 L1322.5 416.2 L1319.6 416.2 L1316.7 416.2 L1313.8 416.2 L1310.8 416.2 L1307.9 416.1 L1305 416.1 L1302.1 416.1 L1299.2 416 L1296.3 416 L1293.4 415.9 L1290.5 415.8 L1287.6 415.7 L1284.6 415.6 L1281.7 415.5 L1278.8 415.4 L1275.9 414.5 L1273 408Z" fill="#0b0b0b" filter="url(#b1)"/>
<rect x="876" y="497" width="77" height="33" fill="url(#sm)" opacity="0.13" filter="url(#b3)"/>
<rect x="979" y="497" width="72" height="33" fill="url(#sm)" opacity="0.13" filter="url(#b3)"/>
<rect x="1078" y="497" width="73" height="33" fill="url(#sm)" opacity="0.13" filter="url(#b3)"/>
<rect x="1176" y="497" width="67" height="33" fill="url(#sm)" opacity="0.13" filter="url(#b3)"/>
<rect x="1277" y="497" width="73" height="33" fill="url(#sm)" opacity="0.13" filter="url(#b3)"/>
<path d="M873 489 L875.9 482.1 L878.9 481.3 L881.8 481.3 L884.7 481.5 L887.6 481.7 L890.6 481.9 L893.5 482.1 L896.4 482.2 L899.4 482.4 L902.3 482.6 L905.2 482.8 L908.1 482.9 L911.1 483.1 L914 483.3 L916.9 483.5 L919.9 483.7 L922.8 483.8 L925.7 484 L928.6 484.2 L931.6 484.4 L934.5 484.6 L937.4 484.7 L940.4 484.9 L943.3 485.1 L946.2 485.3 L949.1 485.6 L952.1 487.1 L955 495 L955 495 L952.1 502.3 L949.1 503.2 L946.2 503.1 L943.3 502.7 L940.4 502.4 L937.4 502 L934.5 501.7 L931.6 501.4 L928.6 501.1 L925.7 500.8 L922.8 500.5 L919.9 500.2 L916.9 500 L914 499.7 L911.1 499.5 L908.1 499.2 L905.2 499 L902.3 498.8 L899.4 498.6 L896.4 498.4 L893.5 498.2 L890.6 498 L887.6 497.9 L884.7 497.7 L881.8 497.6 L878.9 497.3 L875.9 496.2 L873 489Z" fill="#0b0b0b" stroke="#0b0b0b" stroke-width="7" stroke-linejoin="round" filter="url(#bh)" opacity="0.22"/>
<path d="M873 489 L875.9 482.1 L878.9 481.3 L881.8 481.3 L884.7 481.5 L887.6 481.7 L890.6 481.9 L893.5 482.1 L896.4 482.2 L899.4 482.4 L902.3 482.6 L905.2 482.8 L908.1 482.9 L911.1 483.1 L914 483.3 L916.9 483.5 L919.9 483.7 L922.8 483.8 L925.7 484 L928.6 484.2 L931.6 484.4 L934.5 484.6 L937.4 484.7 L940.4 484.9 L943.3 485.1 L946.2 485.3 L949.1 485.6 L952.1 487.1 L955 495 L955 495 L952.1 502.3 L949.1 503.2 L946.2 503.1 L943.3 502.7 L940.4 502.4 L937.4 502 L934.5 501.7 L931.6 501.4 L928.6 501.1 L925.7 500.8 L922.8 500.5 L919.9 500.2 L916.9 500 L914 499.7 L911.1 499.5 L908.1 499.2 L905.2 499 L902.3 498.8 L899.4 498.6 L896.4 498.4 L893.5 498.2 L890.6 498 L887.6 497.9 L884.7 497.7 L881.8 497.6 L878.9 497.3 L875.9 496.2 L873 489Z" fill="#0b0b0b" filter="url(#b1)"/>
<path d="M976 494.5 L978.8 486.9 L981.6 485.3 L984.4 484.6 L987.1 484.1 L989.9 483.6 L992.7 483.2 L995.5 482.8 L998.3 482.4 L1001.1 482.1 L1003.9 481.8 L1006.6 481.6 L1009.4 481.4 L1012.2 481.2 L1015 481.1 L1017.8 480.9 L1020.6 480.9 L1023.4 480.8 L1026.1 480.8 L1028.9 480.9 L1031.7 480.9 L1034.5 481.1 L1037.3 481.2 L1040.1 481.4 L1042.9 481.6 L1045.6 481.8 L1048.4 482.3 L1051.2 483.6 L1054 491 L1054 491 L1051.2 497.6 L1048.4 498.3 L1045.6 498 L1042.9 497.7 L1040.1 497.5 L1037.3 497.3 L1034.5 497.1 L1031.7 496.9 L1028.9 496.8 L1026.1 496.8 L1023.4 496.8 L1020.6 496.8 L1017.8 496.8 L1015 496.9 L1012.2 497.1 L1009.4 497.3 L1006.6 497.5 L1003.9 497.8 L1001.1 498.1 L998.3 498.4 L995.5 498.8 L992.7 499.3 L989.9 499.7 L987.1 500.2 L984.4 500.8 L981.6 501.3 L978.8 500.8 L976 494.5Z" fill="#0b0b0b" stroke="#0b0b0b" stroke-width="7" stroke-linejoin="round" filter="url(#bh)" opacity="0.22"/>
<path d="M976 494.5 L978.8 486.9 L981.6 485.3 L984.4 484.6 L987.1 484.1 L989.9 483.6 L992.7 483.2 L995.5 482.8 L998.3 482.4 L1001.1 482.1 L1003.9 481.8 L1006.6 481.6 L1009.4 481.4 L1012.2 481.2 L1015 481.1 L1017.8 480.9 L1020.6 480.9 L1023.4 480.8 L1026.1 480.8 L1028.9 480.9 L1031.7 480.9 L1034.5 481.1 L1037.3 481.2 L1040.1 481.4 L1042.9 481.6 L1045.6 481.8 L1048.4 482.3 L1051.2 483.6 L1054 491 L1054 491 L1051.2 497.6 L1048.4 498.3 L1045.6 498 L1042.9 497.7 L1040.1 497.5 L1037.3 497.3 L1034.5 497.1 L1031.7 496.9 L1028.9 496.8 L1026.1 496.8 L1023.4 496.8 L1020.6 496.8 L1017.8 496.8 L1015 496.9 L1012.2 497.1 L1009.4 497.3 L1006.6 497.5 L1003.9 497.8 L1001.1 498.1 L998.3 498.4 L995.5 498.8 L992.7 499.3 L989.9 499.7 L987.1 500.2 L984.4 500.8 L981.6 501.3 L978.8 500.8 L976 494.5Z" fill="#0b0b0b" filter="url(#b1)"/>
<path d="M1075 490 L1077.8 483.5 L1080.6 482.6 L1083.4 482.6 L1086.2 482.7 L1089 482.8 L1091.8 482.9 L1094.6 483 L1097.4 483.1 L1100.2 483.1 L1103 483.2 L1105.8 483.2 L1108.6 483.2 L1111.4 483.3 L1114.2 483.3 L1117.1 483.3 L1119.9 483.3 L1122.7 483.3 L1125.5 483.3 L1128.3 483.3 L1131.1 483.3 L1133.9 483.2 L1136.7 483.2 L1139.5 483.2 L1142.3 483.1 L1145.1 483 L1147.9 483.4 L1150.7 484.9 L1153.5 493 L1153.5 493 L1150.7 501.1 L1147.9 502.4 L1145.1 502.7 L1142.3 502.5 L1139.5 502.4 L1136.7 502.2 L1133.9 502 L1131.1 501.8 L1128.3 501.7 L1125.5 501.5 L1122.7 501.3 L1119.9 501.1 L1117.1 500.9 L1114.2 500.7 L1111.4 500.5 L1108.6 500.3 L1105.8 500.1 L1103 499.9 L1100.2 499.7 L1097.4 499.5 L1094.6 499.3 L1091.8 499 L1089 498.8 L1086.2 498.6 L1083.4 498.4 L1080.6 498.1 L1077.8 496.9 L1075 490Z" fill="#0b0b0b" stroke="#0b0b0b" stroke-width="7" stroke-linejoin="round" filter="url(#bh)" opacity="0.22"/>
<path d="M1075 490 L1077.8 483.5 L1080.6 482.6 L1083.4 482.6 L1086.2 482.7 L1089 482.8 L1091.8 482.9 L1094.6 483 L1097.4 483.1 L1100.2 483.1 L1103 483.2 L1105.8 483.2 L1108.6 483.2 L1111.4 483.3 L1114.2 483.3 L1117.1 483.3 L1119.9 483.3 L1122.7 483.3 L1125.5 483.3 L1128.3 483.3 L1131.1 483.3 L1133.9 483.2 L1136.7 483.2 L1139.5 483.2 L1142.3 483.1 L1145.1 483 L1147.9 483.4 L1150.7 484.9 L1153.5 493 L1153.5 493 L1150.7 501.1 L1147.9 502.4 L1145.1 502.7 L1142.3 502.5 L1139.5 502.4 L1136.7 502.2 L1133.9 502 L1131.1 501.8 L1128.3 501.7 L1125.5 501.5 L1122.7 501.3 L1119.9 501.1 L1117.1 500.9 L1114.2 500.7 L1111.4 500.5 L1108.6 500.3 L1105.8 500.1 L1103 499.9 L1100.2 499.7 L1097.4 499.5 L1094.6 499.3 L1091.8 499 L1089 498.8 L1086.2 498.6 L1083.4 498.4 L1080.6 498.1 L1077.8 496.9 L1075 490Z" fill="#0b0b0b" filter="url(#b1)"/>
<path d="M1173.5 489.5 L1175.9 482.3 L1178.3 480.9 L1180.7 480.5 L1183.1 480.5 L1185.6 480.5 L1188 480.6 L1190.4 480.7 L1192.8 480.9 L1195.2 481 L1197.6 481.1 L1200 481.3 L1202.4 481.4 L1204.8 481.6 L1207.2 481.8 L1209.7 482 L1212.1 482.2 L1214.5 482.4 L1216.9 482.7 L1219.3 482.9 L1221.7 483.2 L1224.1 483.5 L1226.5 483.8 L1228.9 484.1 L1231.4 484.4 L1233.8 484.7 L1236.2 485.2 L1238.6 486.2 L1241 492 L1241 492 L1238.6 497.5 L1236.2 498.4 L1233.8 498.5 L1231.4 498.6 L1228.9 498.7 L1226.5 498.8 L1224.1 498.9 L1221.7 499 L1219.3 499 L1216.9 499.1 L1214.5 499.1 L1212.1 499.1 L1209.7 499.2 L1207.2 499.2 L1204.8 499.2 L1202.4 499.2 L1200 499.2 L1197.6 499.2 L1195.2 499.2 L1192.8 499.2 L1190.4 499.1 L1188 499.1 L1185.6 499.1 L1183.1 499 L1180.7 498.9 L1178.3 498.3 L1175.9 496.8 L1173.5 489.5Z" fill="#0b0b0b" stroke="#0b0b0b" stroke-width="7" stroke-linejoin="round" filter="url(#bh)" opacity="0.22"/>
<path d="M1173.5 489.5 L1175.9 482.3 L1178.3 480.9 L1180.7 480.5 L1183.1 480.5 L1185.6 480.5 L1188 480.6 L1190.4 480.7 L1192.8 480.9 L1195.2 481 L1197.6 481.1 L1200 481.3 L1202.4 481.4 L1204.8 481.6 L1207.2 481.8 L1209.7 482 L1212.1 482.2 L1214.5 482.4 L1216.9 482.7 L1219.3 482.9 L1221.7 483.2 L1224.1 483.5 L1226.5 483.8 L1228.9 484.1 L1231.4 484.4 L1233.8 484.7 L1236.2 485.2 L1238.6 486.2 L1241 492 L1241 492 L1238.6 497.5 L1236.2 498.4 L1233.8 498.5 L1231.4 498.6 L1228.9 498.7 L1226.5 498.8 L1224.1 498.9 L1221.7 499 L1219.3 499 L1216.9 499.1 L1214.5 499.1 L1212.1 499.1 L1209.7 499.2 L1207.2 499.2 L1204.8 499.2 L1202.4 499.2 L1200 499.2 L1197.6 499.2 L1195.2 499.2 L1192.8 499.2 L1190.4 499.1 L1188 499.1 L1185.6 499.1 L1183.1 499 L1180.7 498.9 L1178.3 498.3 L1175.9 496.8 L1173.5 489.5Z" fill="#0b0b0b" filter="url(#b1)"/>
<path d="M1242 489 L1242.6 485.1 L1243.2 483.8 L1243.8 482.8 L1244.4 482 L1244.9 481.3 L1245.5 480.8 L1246.1 480.3 L1246.7 479.9 L1247.3 479.5 L1247.9 479.2 L1248.5 478.9 L1249.1 478.7 L1249.7 478.5 L1250.2 478.3 L1250.8 478.1 L1251.4 478 L1252 477.9 L1252.6 477.9 L1253.2 477.9 L1253.8 478 L1254.4 478.1 L1255 478.3 L1255.6 478.6 L1256.1 478.9 L1256.7 479.4 L1257.3 480.2 L1257.9 481.2 L1258.5 485 L1258.5 485 L1257.9 488.9 L1257.3 490.2 L1256.7 491 L1256.1 491.7 L1255.6 492.3 L1255 492.8 L1254.4 493.2 L1253.8 493.5 L1253.2 493.8 L1252.6 494 L1252 494.3 L1251.4 494.4 L1250.8 494.6 L1250.2 494.7 L1249.7 494.8 L1249.1 494.9 L1248.5 495 L1247.9 495.1 L1247.3 495.1 L1246.7 495 L1246.1 495 L1245.5 494.8 L1244.9 494.6 L1244.4 494.4 L1243.8 494 L1243.2 493.4 L1242.6 492.5 L1242 489Z" fill="#0b0b0b" stroke="#0b0b0b" stroke-width="7" stroke-linejoin="round" filter="url(#bh)" opacity="0.22"/>
<path d="M1242 489 L1242.6 485.1 L1243.2 483.8 L1243.8 482.8 L1244.4 482 L1244.9 481.3 L1245.5 480.8 L1246.1 480.3 L1246.7 479.9 L1247.3 479.5 L1247.9 479.2 L1248.5 478.9 L1249.1 478.7 L1249.7 478.5 L1250.2 478.3 L1250.8 478.1 L1251.4 478 L1252 477.9 L1252.6 477.9 L1253.2 477.9 L1253.8 478 L1254.4 478.1 L1255 478.3 L1255.6 478.6 L1256.1 478.9 L1256.7 479.4 L1257.3 480.2 L1257.9 481.2 L1258.5 485 L1258.5 485 L1257.9 488.9 L1257.3 490.2 L1256.7 491 L1256.1 491.7 L1255.6 492.3 L1255 492.8 L1254.4 493.2 L1253.8 493.5 L1253.2 493.8 L1252.6 494 L1252 494.3 L1251.4 494.4 L1250.8 494.6 L1250.2 494.7 L1249.7 494.8 L1249.1 494.9 L1248.5 495 L1247.9 495.1 L1247.3 495.1 L1246.7 495 L1246.1 495 L1245.5 494.8 L1244.9 494.6 L1244.4 494.4 L1243.8 494 L1243.2 493.4 L1242.6 492.5 L1242 489Z" fill="#0b0b0b" filter="url(#b1)"/>
<path d="M1274 493.5 L1276.8 485.9 L1279.6 484.6 L1282.5 484.3 L1285.3 484.3 L1288.1 484.3 L1290.9 484.3 L1293.8 484.2 L1296.6 484.2 L1299.4 484.2 L1302.2 484.1 L1305 484 L1307.9 484 L1310.7 483.9 L1313.5 483.8 L1316.3 483.7 L1319.1 483.6 L1322 483.5 L1324.8 483.4 L1327.6 483.3 L1330.4 483.1 L1333.2 483 L1336.1 482.8 L1338.9 482.7 L1341.7 482.5 L1344.5 482.4 L1347.4 482.4 L1350.2 483.3 L1353 490.5 L1353 490.5 L1350.2 497.9 L1347.4 499.1 L1344.5 499.3 L1341.7 499.3 L1338.9 499.4 L1336.1 499.4 L1333.2 499.5 L1330.4 499.6 L1327.6 499.7 L1324.8 499.8 L1322 499.9 L1319.1 500 L1316.3 500.1 L1313.5 500.2 L1310.7 500.3 L1307.9 500.5 L1305 500.6 L1302.2 500.8 L1299.4 500.9 L1296.6 501.1 L1293.8 501.3 L1290.9 501.4 L1288.1 501.6 L1285.3 501.8 L1282.5 502 L1279.6 502 L1276.8 500.9 L1274 493.5Z" fill="#0b0b0b" stroke="#0b0b0b" stroke-width="7" stroke-linejoin="round" filter="url(#bh)" opacity="0.22"/>
<path d="M1274 493.5 L1276.8 485.9 L1279.6 484.6 L1282.5 484.3 L1285.3 484.3 L1288.1 484.3 L1290.9 484.3 L1293.8 484.2 L1296.6 484.2 L1299.4 484.2 L1302.2 484.1 L1305 484 L1307.9 484 L1310.7 483.9 L1313.5 483.8 L1316.3 483.7 L1319.1 483.6 L1322 483.5 L1324.8 483.4 L1327.6 483.3 L1330.4 483.1 L1333.2 483 L1336.1 482.8 L1338.9 482.7 L1341.7 482.5 L1344.5 482.4 L1347.4 482.4 L1350.2 483.3 L1353 490.5 L1353 490.5 L1350.2 497.9 L1347.4 499.1 L1344.5 499.3 L1341.7 499.3 L1338.9 499.4 L1336.1 499.4 L1333.2 499.5 L1330.4 499.6 L1327.6 499.7 L1324.8 499.8 L1322 499.9 L1319.1 500 L1316.3 500.1 L1313.5 500.2 L1310.7 500.3 L1307.9 500.5 L1305 500.6 L1302.2 500.8 L1299.4 500.9 L1296.6 501.1 L1293.8 501.3 L1290.9 501.4 L1288.1 501.6 L1285.3 501.8 L1282.5 502 L1279.6 502 L1276.8 500.9 L1274 493.5Z" fill="#0b0b0b" filter="url(#b1)"/>
<path d="M874 571 L877.3 561.5 L880.6 559.8 L883.9 559.3 L887.1 559.5 L890.4 559.6 L893.7 559.8 L897 560 L900.3 560.2 L903.6 560.3 L906.9 560.5 L910.1 560.7 L913.4 560.9 L916.7 561.1 L920 561.3 L923.3 561.5 L926.6 561.7 L929.9 561.9 L933.1 562.1 L936.4 562.3 L939.7 562.5 L943 562.7 L946.3 563 L949.6 563.2 L952.9 563.4 L956.1 563.7 L959.4 564.6 L962.7 566.8 L966 577 L966 577 L962.7 586.8 L959.4 588.6 L956.1 589 L952.9 588.9 L949.6 588.7 L946.3 588.5 L943 588.3 L939.7 588 L936.4 587.8 L933.1 587.6 L929.9 587.4 L926.6 587.2 L923.3 586.9 L920 586.7 L916.7 586.5 L913.4 586.2 L910.1 586 L906.9 585.8 L903.6 585.5 L900.3 585.3 L897 585 L893.7 584.8 L890.4 584.5 L887.1 584.3 L883.9 583.9 L880.6 583.1 L877.3 581 L874 571Z" fill="#0b0b0b" stroke="#0b0b0b" stroke-width="7" stroke-linejoin="round" filter="url(#bh)" opacity="0.22"/>
<path d="M874 571 L877.3 561.5 L880.6 559.8 L883.9 559.3 L887.1 559.5 L890.4 559.6 L893.7 559.8 L897 560 L900.3 560.2 L903.6 560.3 L906.9 560.5 L910.1 560.7 L913.4 560.9 L916.7 561.1 L920 561.3 L923.3 561.5 L926.6 561.7 L929.9 561.9 L933.1 562.1 L936.4 562.3 L939.7 562.5 L943 562.7 L946.3 563 L949.6 563.2 L952.9 563.4 L956.1 563.7 L959.4 564.6 L962.7 566.8 L966 577 L966 577 L962.7 586.8 L959.4 588.6 L956.1 589 L952.9 588.9 L949.6 588.7 L946.3 588.5 L943 588.3 L939.7 588 L936.4 587.8 L933.1 587.6 L929.9 587.4 L926.6 587.2 L923.3 586.9 L920 586.7 L916.7 586.5 L913.4 586.2 L910.1 586 L906.9 585.8 L903.6 585.5 L900.3 585.3 L897 585 L893.7 584.8 L890.4 584.5 L887.1 584.3 L883.9 583.9 L880.6 583.1 L877.3 581 L874 571Z" fill="#0b0b0b" filter="url(#b1)"/>
<path d="M975 574 L978.1 564.9 L981.1 563.3 L984.2 563 L987.2 563.1 L990.3 563.4 L993.3 563.6 L996.4 563.8 L999.4 564 L1002.5 564.1 L1005.5 564.2 L1008.6 564.3 L1011.6 564.3 L1014.7 564.3 L1017.8 564.3 L1020.8 564.2 L1023.9 564.2 L1026.9 564.1 L1030 563.9 L1033 563.7 L1036.1 563.5 L1039.1 563.3 L1042.2 563 L1045.2 562.7 L1048.3 562.4 L1051.3 562.2 L1054.4 562.6 L1057.4 564.2 L1060.5 573.5 L1060.5 573.5 L1057.4 583.7 L1054.4 586.2 L1051.3 587.4 L1048.3 587.9 L1045.2 588.3 L1042.2 588.6 L1039.1 588.8 L1036.1 589.1 L1033 589.3 L1030 589.4 L1026.9 589.5 L1023.9 589.6 L1020.8 589.7 L1017.8 589.7 L1014.7 589.7 L1011.6 589.6 L1008.6 589.5 L1005.5 589.4 L1002.5 589.3 L999.4 589.1 L996.4 588.8 L993.3 588.6 L990.3 588.3 L987.2 587.9 L984.2 587.4 L981.1 586.3 L978.1 584 L975 574Z" fill="#0b0b0b" stroke="#0b0b0b" stroke-width="7" stroke-linejoin="round" filter="url(#bh)" opacity="0.22"/>
<path d="M975 574 L978.1 564.9 L981.1 563.3 L984.2 563 L987.2 563.1 L990.3 563.4 L993.3 563.6 L996.4 563.8 L999.4 564 L1002.5 564.1 L1005.5 564.2 L1008.6 564.3 L1011.6 564.3 L1014.7 564.3 L1017.8 564.3 L1020.8 564.2 L1023.9 564.2 L1026.9 564.1 L1030 563.9 L1033 563.7 L1036.1 563.5 L1039.1 563.3 L1042.2 563 L1045.2 562.7 L1048.3 562.4 L1051.3 562.2 L1054.4 562.6 L1057.4 564.2 L1060.5 573.5 L1060.5 573.5 L1057.4 583.7 L1054.4 586.2 L1051.3 587.4 L1048.3 587.9 L1045.2 588.3 L1042.2 588.6 L1039.1 588.8 L1036.1 589.1 L1033 589.3 L1030 589.4 L1026.9 589.5 L1023.9 589.6 L1020.8 589.7 L1017.8 589.7 L1014.7 589.7 L1011.6 589.6 L1008.6 589.5 L1005.5 589.4 L1002.5 589.3 L999.4 589.1 L996.4 588.8 L993.3 588.6 L990.3 588.3 L987.2 587.9 L984.2 587.4 L981.1 586.3 L978.1 584 L975 574Z" fill="#0b0b0b" filter="url(#b1)"/>
<path d="M1069 572 L1072.2 562.8 L1075.4 561.3 L1078.5 561 L1081.7 561.3 L1084.9 561.6 L1088.1 561.9 L1091.2 562.1 L1094.4 562.4 L1097.6 562.6 L1100.8 562.8 L1104 562.9 L1107.1 563.1 L1110.3 563.2 L1113.5 563.3 L1116.7 563.4 L1119.9 563.4 L1123 563.5 L1126.2 563.5 L1129.4 563.5 L1132.6 563.4 L1135.8 563.4 L1138.9 563.3 L1142.1 563.2 L1145.3 563 L1148.5 563 L1151.6 563.5 L1154.8 565.3 L1158 575 L1158 575 L1154.8 585.1 L1151.6 587.4 L1148.5 588.3 L1145.3 588.5 L1142.1 588.7 L1138.9 588.8 L1135.8 588.9 L1132.6 588.9 L1129.4 589 L1126.2 589 L1123 588.9 L1119.9 588.9 L1116.7 588.8 L1113.5 588.7 L1110.3 588.6 L1107.1 588.4 L1104 588.2 L1100.8 588 L1097.6 587.7 L1094.4 587.4 L1091.2 587.1 L1088.1 586.8 L1084.9 586.4 L1081.7 586 L1078.5 585.6 L1075.4 584.5 L1072.2 582.1 L1069 572Z" fill="#0b0b0b" stroke="#0b0b0b" stroke-width="7" stroke-linejoin="round" filter="url(#bh)" opacity="0.22"/>
<path d="M1069 572 L1072.2 562.8 L1075.4 561.3 L1078.5 561 L1081.7 561.3 L1084.9 561.6 L1088.1 561.9 L1091.2 562.1 L1094.4 562.4 L1097.6 562.6 L1100.8 562.8 L1104 562.9 L1107.1 563.1 L1110.3 563.2 L1113.5 563.3 L1116.7 563.4 L1119.9 563.4 L1123 563.5 L1126.2 563.5 L1129.4 563.5 L1132.6 563.4 L1135.8 563.4 L1138.9 563.3 L1142.1 563.2 L1145.3 563 L1148.5 563 L1151.6 563.5 L1154.8 565.3 L1158 575 L1158 575 L1154.8 585.1 L1151.6 587.4 L1148.5 588.3 L1145.3 588.5 L1142.1 588.7 L1138.9 588.8 L1135.8 588.9 L1132.6 588.9 L1129.4 589 L1126.2 589 L1123 588.9 L1119.9 588.9 L1116.7 588.8 L1113.5 588.7 L1110.3 588.6 L1107.1 588.4 L1104 588.2 L1100.8 588 L1097.6 587.7 L1094.4 587.4 L1091.2 587.1 L1088.1 586.8 L1084.9 586.4 L1081.7 586 L1078.5 585.6 L1075.4 584.5 L1072.2 582.1 L1069 572Z" fill="#0b0b0b" filter="url(#b1)"/>
<path d="M1168.5 569.5 L1171.6 560.5 L1174.8 559.3 L1177.9 559.3 L1181 559.9 L1184.1 560.5 L1187.2 561 L1190.4 561.5 L1193.5 561.9 L1196.6 562.3 L1199.8 562.6 L1202.9 562.8 L1206 563 L1209.1 563.1 L1212.2 563.1 L1215.4 563.1 L1218.5 563 L1221.6 562.8 L1224.8 562.6 L1227.9 562.3 L1231 561.9 L1234.1 561.5 L1237.2 561 L1240.4 560.5 L1243.5 559.9 L1246.6 559.3 L1249.8 559.4 L1252.9 560.7 L1256 570 L1256 570 L1252.9 580.8 L1249.8 583.5 L1246.6 584.8 L1243.5 585.4 L1240.4 585.8 L1237.2 586.2 L1234.1 586.5 L1231 586.8 L1227.9 587.1 L1224.8 587.3 L1221.6 587.4 L1218.5 587.5 L1215.4 587.5 L1212.2 587.5 L1209.1 587.4 L1206 587.3 L1202.9 587.2 L1199.8 587 L1196.6 586.7 L1193.5 586.4 L1190.4 586 L1187.2 585.6 L1184.1 585.2 L1181 584.7 L1177.9 584 L1174.8 582.7 L1171.6 580.1 L1168.5 569.5Z" fill="#0b0b0b" stroke="#0b0b0b" stroke-width="7" stroke-linejoin="round" filter="url(#bh)" opacity="0.22"/>
<path d="M1168.5 569.5 L1171.6 560.5 L1174.8 559.3 L1177.9 559.3 L1181 559.9 L1184.1 560.5 L1187.2 561 L1190.4 561.5 L1193.5 561.9 L1196.6 562.3 L1199.8 562.6 L1202.9 562.8 L1206 563 L1209.1 563.1 L1212.2 563.1 L1215.4 563.1 L1218.5 563 L1221.6 562.8 L1224.8 562.6 L1227.9 562.3 L1231 561.9 L1234.1 561.5 L1237.2 561 L1240.4 560.5 L1243.5 559.9 L1246.6 559.3 L1249.8 559.4 L1252.9 560.7 L1256 570 L1256 570 L1252.9 580.8 L1249.8 583.5 L1246.6 584.8 L1243.5 585.4 L1240.4 585.8 L1237.2 586.2 L1234.1 586.5 L1231 586.8 L1227.9 587.1 L1224.8 587.3 L1221.6 587.4 L1218.5 587.5 L1215.4 587.5 L1212.2 587.5 L1209.1 587.4 L1206 587.3 L1202.9 587.2 L1199.8 587 L1196.6 586.7 L1193.5 586.4 L1190.4 586 L1187.2 585.6 L1184.1 585.2 L1181 584.7 L1177.9 584 L1174.8 582.7 L1171.6 580.1 L1168.5 569.5Z" fill="#0b0b0b" filter="url(#b1)"/>
<path d="M1266.5 570.5 L1269.6 562 L1272.7 560.9 L1275.8 560.9 L1278.9 561.5 L1282 562 L1285.1 562.4 L1288.2 562.8 L1291.4 563.1 L1294.5 563.4 L1297.6 563.6 L1300.7 563.7 L1303.8 563.8 L1306.9 563.8 L1310 563.8 L1313.1 563.7 L1316.2 563.5 L1319.3 563.3 L1322.4 563 L1325.5 562.7 L1328.6 562.3 L1331.8 561.8 L1334.9 561.3 L1338 560.7 L1341.1 560 L1344.2 559.4 L1347.3 559.5 L1350.4 560.7 L1353.5 570 L1353.5 570 L1350.4 580.7 L1347.3 583.4 L1344.2 584.7 L1341.1 585.3 L1338 585.7 L1334.9 586 L1331.8 586.3 L1328.6 586.6 L1325.5 586.8 L1322.4 587 L1319.3 587.1 L1316.2 587.2 L1313.1 587.2 L1310 587.2 L1306.9 587.1 L1303.8 587 L1300.7 586.9 L1297.6 586.7 L1294.5 586.4 L1291.4 586.2 L1288.2 585.8 L1285.1 585.4 L1282 585 L1278.9 584.5 L1275.8 584 L1272.7 582.9 L1269.6 580.5 L1266.5 570.5Z" fill="#0b0b0b" stroke="#0b0b0b" stroke-width="7" stroke-linejoin="round" filter="url(#bh)" opacity="0.22"/>
<path d="M1266.5 570.5 L1269.6 562 L1272.7 560.9 L1275.8 560.9 L1278.9 561.5 L1282 562 L1285.1 562.4 L1288.2 562.8 L1291.4 563.1 L1294.5 563.4 L1297.6 563.6 L1300.7 563.7 L1303.8 563.8 L1306.9 563.8 L1310 563.8 L1313.1 563.7 L1316.2 563.5 L1319.3 563.3 L1322.4 563 L1325.5 562.7 L1328.6 562.3 L1331.8 561.8 L1334.9 561.3 L1338 560.7 L1341.1 560 L1344.2 559.4 L1347.3 559.5 L1350.4 560.7 L1353.5 570 L1353.5 570 L1350.4 580.7 L1347.3 583.4 L1344.2 584.7 L1341.1 585.3 L1338 585.7 L1334.9 586 L1331.8 586.3 L1328.6 586.6 L1325.5 586.8 L1322.4 587 L1319.3 587.1 L1316.2 587.2 L1313.1 587.2 L1310 587.2 L1306.9 587.1 L1303.8 587 L1300.7 586.9 L1297.6 586.7 L1294.5 586.4 L1291.4 586.2 L1288.2 585.8 L1285.1 585.4 L1282 585 L1278.9 584.5 L1275.8 584 L1272.7 582.9 L1269.6 580.5 L1266.5 570.5Z" fill="#0b0b0b" filter="url(#b1)"/>
</g></g>
<rect x="170" y="192.6" width="6" height="1.4" fill="#c2c2c2"/>
<rect x="890" y="192.6" width="6" height="1.4" fill="#c2c2c2"/>
<text x="119.6" y="252" font-size="31.7" text-anchor="end">p-JAK2</text>
<text x="119.6" y="334" font-size="31.7" text-anchor="end">JAK2</text>
<text x="119.6" y="418" font-size="31.7" text-anchor="end">p-STAT3</text>
<text x="119.6" y="504.2" font-size="31.7" text-anchor="end">STAT3</text>
<text x="119.6" y="585" font-size="31.7" text-anchor="end">β-actin</text>
<text x="853.4" y="252.5" font-size="31.7" text-anchor="end">p-P65</text>
<text x="853.4" y="336.6" font-size="31.7" text-anchor="end">P65</text>
<text x="853.4" y="421.3" font-size="31.7" text-anchor="end">p-IκBα</text>
<text x="853.4" y="506.5" font-size="31.7" text-anchor="end">IκBα</text>
<text x="853.4" y="579.7" font-size="31.7" text-anchor="end">β-actin</text>
<text x="26.3" y="170.1" font-size="32" text-anchor="start">(A)</text>
<text x="768.5" y="165.8" font-size="32" text-anchor="start">(B)</text>
<text transform="translate(190 187.3) rotate(-45)" font-size="31.7">Sham</text>
<text transform="translate(300 190.6) rotate(-45)" font-size="31.7">CCI</text>
<text transform="translate(384.5 167.4) rotate(-45)" font-size="31.7">CCI+</text>
<text transform="translate(405.5 187) rotate(-45)" font-size="31.7">5 mg/kg EriB</text>
<text transform="translate(473.5 171.1) rotate(-45)" font-size="31.7">CCI+</text>
<text transform="translate(493.5 190) rotate(-45)" font-size="31.7">10 mg/kg EriB</text>
<text transform="translate(566.9 170.5) rotate(-45)" font-size="31.7">CCI+1μg/kg</text>
<text transform="translate(587.6 189.9) rotate(-45)" font-size="31.7">Dexmedetomidine</text>
<text transform="translate(910.8 186) rotate(-45)" font-size="31.7">Sham</text>
<text transform="translate(1020.8 189.3) rotate(-45)" font-size="31.7">CCI</text>
<text transform="translate(1105.3 166.1) rotate(-45)" font-size="31.7">CCI+</text>
<text transform="translate(1126.3 185.7) rotate(-45)" font-size="31.7">5 mg/kg EriB</text>
<text transform="translate(1194.3 169.8) rotate(-45)" font-size="31.7">CCI+</text>
<text transform="translate(1214.3 188.7) rotate(-45)" font-size="31.7">10 mg/kg EriB</text>
<text transform="translate(1287.7 169.2) rotate(-45)" font-size="31.7">CCI+1μg/kg</text>
<text transform="translate(1308.4 188.6) rotate(-45)" font-size="31.7">Dexmedetomidine</text>
<rect x="309.7" y="978.5" width="41.8" height="27.3" fill="#000000"/>
<rect x="372.4" y="746.7" width="41.9" height="259.1" fill="#f0776d"/>
<rect x="435.8" y="826.7" width="42.2" height="179.1" fill="#c66aa6"/>
<rect x="498.8" y="931.6" width="41.7" height="74.2" fill="#1db1e1"/>
<rect x="561.1" y="924.5" width="42.6" height="81.3" fill="#55b049"/>
<path d="M330.6 979.5 V965.2 M320.4 965.2 H340.8" stroke="#262626" stroke-width="2.1" fill="none"/>
<path d="M393.4 747.7 V720.7 M383.2 720.7 H403.6" stroke="#262626" stroke-width="2.1" fill="none"/>
<path d="M456.9 827.7 V812 M446.7 812 H467.1" stroke="#262626" stroke-width="2.1" fill="none"/>
<path d="M519.6 932.6 V913.5 M509.4 913.5 H529.9" stroke="#262626" stroke-width="2.1" fill="none"/>
<path d="M582.4 925.5 V914.1 M572.2 914.1 H592.6" stroke="#262626" stroke-width="2.1" fill="none"/>
<path d="M288.4 668.8 V1005.8 H625.5" stroke="#111" stroke-width="3" fill="none" stroke-linejoin="miter"/>
<path d="M274.4 670.3 H288.4" stroke="#111" stroke-width="3"/>
<text x="269.5" y="684.9" font-size="31.5" text-anchor="end">1.5</text>
<path d="M274.4 782.2 H288.4" stroke="#111" stroke-width="3"/>
<text x="269.5" y="796.8" font-size="31.5" text-anchor="end">1.0</text>
<path d="M274.4 894 H288.4" stroke="#111" stroke-width="3"/>
<text x="269.5" y="908.6" font-size="31.5" text-anchor="end">0.5</text>
<path d="M274.4 1005.8 H288.4" stroke="#111" stroke-width="3"/>
<text x="269.5" y="1020.4" font-size="31.5" text-anchor="end">0.0</text>
<text x="364.2 384.4 404.5" y="722.2" font-size="37.5" font-weight="bold" style="font-family:'Liberation Serif',serif;stroke:#111;stroke-width:.8px;fill:#111">***</text>
<text transform="translate(433.8 804.7) scale(.91 1)" x="0 16.2 32.4" font-size="30" style="stroke-width:.5px;fill:#111">###</text>
<text transform="translate(496.5 905.9) scale(.91 1)" x="0 16.2 32.4" font-size="30" style="stroke-width:.5px;fill:#111">###</text>
<text transform="translate(559.3 905) scale(.91 1)" x="0 16.2 32.4" font-size="30" style="stroke-width:.5px;fill:#111">###</text>
<text transform="translate(174 842) rotate(-90)" font-size="31.7" text-anchor="middle">Relative level of</text>
<text transform="translate(205.8 842) rotate(-90)" font-size="31.7" text-anchor="middle">p-JAK2/JAK2 protein</text>
<rect x="309.7" y="1415.5" width="41.8" height="21.9" fill="#000000"/>
<rect x="372.4" y="1223.3" width="41.9" height="214.1" fill="#f0776d"/>
<rect x="435.8" y="1275.7" width="42.2" height="161.7" fill="#c66aa6"/>
<rect x="498.8" y="1385.4" width="41.7" height="52" fill="#1db1e1"/>
<rect x="561.1" y="1376.2" width="42.6" height="61.2" fill="#55b049"/>
<path d="M330.6 1416.5 V1406.5 M320.4 1406.5 H340.8" stroke="#262626" stroke-width="2.1" fill="none"/>
<path d="M393.4 1224.3 V1209.7 M383.2 1209.7 H403.6" stroke="#262626" stroke-width="2.1" fill="none"/>
<path d="M456.9 1276.7 V1260.6 M446.7 1260.6 H467.1" stroke="#262626" stroke-width="2.1" fill="none"/>
<path d="M519.6 1386.4 V1371.2 M509.4 1371.2 H529.9" stroke="#262626" stroke-width="2.1" fill="none"/>
<path d="M582.4 1377.2 V1365.1 M572.2 1365.1 H592.6" stroke="#262626" stroke-width="2.1" fill="none"/>
<path d="M288.3 1100.2 V1437.4 H625.5" stroke="#111" stroke-width="3" fill="none" stroke-linejoin="miter"/>
<path d="M274.3 1101.7 H288.3" stroke="#111" stroke-width="3"/>
<text x="269.4" y="1116.3" font-size="31.5" text-anchor="end">1.5</text>
<path d="M274.3 1214 H288.3" stroke="#111" stroke-width="3"/>
<text x="269.4" y="1228.6" font-size="31.5" text-anchor="end">1.0</text>
<path d="M274.3 1326 H288.3" stroke="#111" stroke-width="3"/>
<text x="269.4" y="1340.6" font-size="31.5" text-anchor="end">0.5</text>
<path d="M274.3 1437.4 H288.3" stroke="#111" stroke-width="3"/>
<text x="269.4" y="1452" font-size="31.5" text-anchor="end">0.0</text>
<text x="364.2 384.4 404.5" y="1212" font-size="37.5" font-weight="bold" style="font-family:'Liberation Serif',serif;stroke:#111;stroke-width:.8px;fill:#111">***</text>
<text transform="translate(433.8 1253.2) scale(.91 1)" x="0 16.2 32.4" font-size="30" style="stroke-width:.5px;fill:#111">###</text>
<text transform="translate(496.5 1364.5) scale(.91 1)" x="0 16.2 32.4" font-size="30" style="stroke-width:.5px;fill:#111">###</text>
<text transform="translate(559.3 1358.7) scale(.91 1)" x="0 16.2 32.4" font-size="30" style="stroke-width:.5px;fill:#111">###</text>
<text transform="translate(181.4 1258) rotate(-90)" font-size="31.7" text-anchor="middle">Relative level of</text>
<text transform="translate(213.4 1258) rotate(-90)" font-size="31.7" text-anchor="middle">p-STAT3/STAT3 protein</text>
<rect x="1025" y="998" width="41.8" height="7.7" fill="#000000"/>
<rect x="1087.3" y="798.6" width="42.7" height="207.1" fill="#f0776d"/>
<rect x="1151.2" y="874.6" width="41.6" height="131.1" fill="#c66aa6"/>
<rect x="1213.7" y="954.7" width="42" height="51" fill="#1db1e1"/>
<rect x="1276.7" y="957" width="41.8" height="48.7" fill="#55b049"/>
<path d="M1045.9 999 V995 M1035.7 995 H1056.1" stroke="#262626" stroke-width="2.1" fill="none"/>
<path d="M1108.7 799.6 V785.4 M1098.5 785.4 H1118.9" stroke="#262626" stroke-width="2.1" fill="none"/>
<path d="M1172 875.6 V860.8 M1161.8 860.8 H1182.2" stroke="#262626" stroke-width="2.1" fill="none"/>
<path d="M1234.7 955.7 V941.3 M1224.5 941.3 H1244.9" stroke="#262626" stroke-width="2.1" fill="none"/>
<path d="M1297.6 958 V945.7 M1287.4 945.7 H1307.8" stroke="#262626" stroke-width="2.1" fill="none"/>
<path d="M1003.6 668.8 V1005.7 H1340.7" stroke="#111" stroke-width="3" fill="none" stroke-linejoin="miter"/>
<path d="M989.6 670.3 H1003.6" stroke="#111" stroke-width="3"/>
<text x="984.7" y="684.9" font-size="31.5" text-anchor="end">1.5</text>
<path d="M989.6 782.2 H1003.6" stroke="#111" stroke-width="3"/>
<text x="984.7" y="796.8" font-size="31.5" text-anchor="end">1.0</text>
<path d="M989.6 894 H1003.6" stroke="#111" stroke-width="3"/>
<text x="984.7" y="908.6" font-size="31.5" text-anchor="end">0.5</text>
<path d="M989.6 1005.7 H1003.6" stroke="#111" stroke-width="3"/>
<text x="984.7" y="1020.3" font-size="31.5" text-anchor="end">0.0</text>
<text x="1079.6 1099.7 1119.8" y="788.3" font-size="37.5" font-weight="bold" style="font-family:'Liberation Serif',serif;stroke:#111;stroke-width:.8px;fill:#111">***</text>
<text transform="translate(1148.9 853.3) scale(.91 1)" x="0 16.2 32.4" font-size="30" style="stroke-width:.5px;fill:#111">###</text>
<text transform="translate(1211.6 932.3) scale(.91 1)" x="0 16.2 32.4" font-size="30" style="stroke-width:.5px;fill:#111">###</text>
<text transform="translate(1274.5 938.3) scale(.91 1)" x="0 16.2 32.4" font-size="30" style="stroke-width:.5px;fill:#111">###</text>
<text transform="translate(884.7 813.6) rotate(-90)" font-size="31.7" text-anchor="middle">Relative level of</text>
<text transform="translate(916.7 813.6) rotate(-90)" font-size="31.7" text-anchor="middle">p-P65/P65 protein</text>
<rect x="1025" y="1363.4" width="41.8" height="76.4" fill="#000000"/>
<rect x="1087.3" y="1148.1" width="42.7" height="291.7" fill="#f0776d"/>
<rect x="1151.2" y="1232.5" width="41.6" height="207.3" fill="#c66aa6"/>
<rect x="1213.7" y="1314.4" width="42" height="125.4" fill="#1db1e1"/>
<rect x="1276.7" y="1308.3" width="41.8" height="131.5" fill="#55b049"/>
<path d="M1045.9 1364.4 V1349.4 M1035.7 1349.4 H1056.1" stroke="#262626" stroke-width="2.1" fill="none"/>
<path d="M1108.7 1149.1 V1135.6 M1098.5 1135.6 H1118.9" stroke="#262626" stroke-width="2.1" fill="none"/>
<path d="M1172 1233.5 V1217.8 M1161.8 1217.8 H1182.2" stroke="#262626" stroke-width="2.1" fill="none"/>
<path d="M1234.7 1315.4 V1297.9 M1224.5 1297.9 H1244.9" stroke="#262626" stroke-width="2.1" fill="none"/>
<path d="M1297.6 1309.3 V1298.6 M1287.4 1298.6 H1307.8" stroke="#262626" stroke-width="2.1" fill="none"/>
<path d="M1003.6 1102.8 V1439.8 H1340.7" stroke="#111" stroke-width="3" fill="none" stroke-linejoin="miter"/>
<path d="M989.6 1104.3 H1003.6" stroke="#111" stroke-width="3"/>
<text x="984.7" y="1118.9" font-size="31.5" text-anchor="end">2.5</text>
<path d="M989.6 1171.2 H1003.6" stroke="#111" stroke-width="3"/>
<text x="984.7" y="1185.8" font-size="31.5" text-anchor="end">2.0</text>
<path d="M989.6 1238.8 H1003.6" stroke="#111" stroke-width="3"/>
<text x="984.7" y="1253.4" font-size="31.5" text-anchor="end">1.5</text>
<path d="M989.6 1305.8 H1003.6" stroke="#111" stroke-width="3"/>
<text x="984.7" y="1320.4" font-size="31.5" text-anchor="end">1.0</text>
<path d="M989.6 1372.9 H1003.6" stroke="#111" stroke-width="3"/>
<text x="984.7" y="1387.5" font-size="31.5" text-anchor="end">0.5</text>
<path d="M989.6 1439.8 H1003.6" stroke="#111" stroke-width="3"/>
<text x="984.7" y="1454.4" font-size="31.5" text-anchor="end">0.0</text>
<text x="1079.6 1099.7 1119.8" y="1139" font-size="37.5" font-weight="bold" style="font-family:'Liberation Serif',serif;stroke:#111;stroke-width:.8px;fill:#111">***</text>
<text transform="translate(1148.9 1212.1) scale(.91 1)" x="0 16.2 32.4" font-size="30" style="stroke-width:.5px;fill:#111">###</text>
<text transform="translate(1211.6 1289.8) scale(.91 1)" x="0 16.2 32.4" font-size="30" style="stroke-width:.5px;fill:#111">###</text>
<text transform="translate(1274.5 1291.7) scale(.91 1)" x="0 16.2 32.4" font-size="30" style="stroke-width:.5px;fill:#111">###</text>
<text transform="translate(890.9 1254.5) rotate(-90)" font-size="31.7" text-anchor="middle">Relative level of</text>
<text transform="translate(922.1 1254.5) rotate(-90)" font-size="31.7" text-anchor="middle">p-IκBα/IκBα protein</text>
<rect x="286.9" y="1484.8" width="35.7" height="27" fill="#000000"/>
<rect x="286.9" y="1530.2" width="35.7" height="27" fill="#c66aa6"/>
<rect x="286.9" y="1585.5" width="35.7" height="27" fill="#1db1e1"/>
<rect x="286.9" y="1650.3" width="35.7" height="27" fill="#55b049"/>
<rect x="449.5" y="1484.8" width="35.7" height="27" fill="#f0776d"/>
<text x="328.6" y="1508.7" font-size="31.7" text-anchor="start">Sham</text>
<text x="496" y="1508.7" font-size="31.7" text-anchor="start">CCI</text>
<text x="328.6" y="1555.6" font-size="31.7" text-anchor="start">CCI+5 mg/kg EriB</text>
<text x="331.6" y="1611.8" font-size="31.7" text-anchor="start">CCI+10 mg/kg EriB</text>
<text x="331.6" y="1664.5" font-size="31.7" text-anchor="start">CCI+1ug/kg</text>
<text x="332.3" y="1696" font-size="31.7" text-anchor="start">Dexmedetomidine</text>
<rect x="999.2" y="1484.8" width="35.7" height="27" fill="#000000"/>
<rect x="999.2" y="1530.2" width="35.7" height="27" fill="#c66aa6"/>
<rect x="999.2" y="1585.5" width="35.7" height="27" fill="#1db1e1"/>
<rect x="999.2" y="1650.3" width="35.7" height="27" fill="#55b049"/>
<rect x="1162.2" y="1484.8" width="35.7" height="27" fill="#f0776d"/>
<text x="1042.6" y="1504.5" font-size="31.7" text-anchor="start">Sham</text>
<text x="1210.1" y="1504.5" font-size="31.7" text-anchor="start">CCI</text>
<text x="1042.6" y="1551.8" font-size="31.7" text-anchor="start">CCI+5 mg/kg EriB</text>
<text x="1042.8" y="1607.2" font-size="31.7" text-anchor="start">CCI+10 mg/kg EriB</text>
<text x="1042.8" y="1660.4" font-size="31.7" text-anchor="start">CCI+1ug/kg</text>
<text x="1043" y="1691.6" font-size="31.7" text-anchor="start">Dexmedetomidine</text>
</svg></body></html>
